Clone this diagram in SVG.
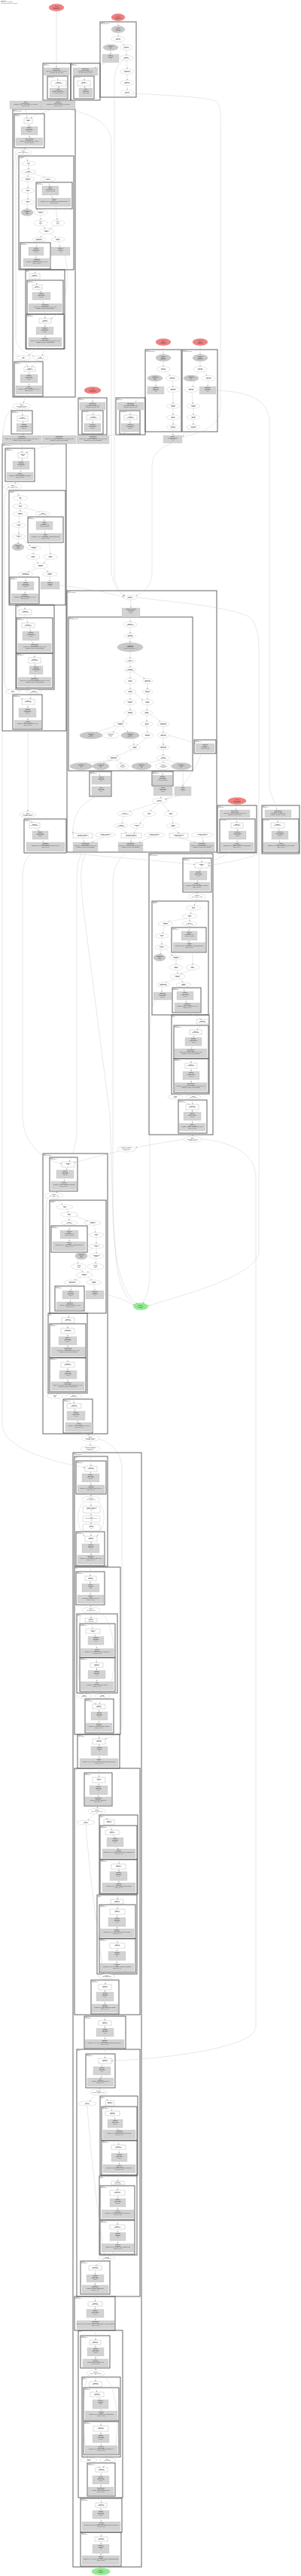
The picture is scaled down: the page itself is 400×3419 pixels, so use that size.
<svg xmlns="http://www.w3.org/2000/svg" width="400" height="3419" viewBox="0 0 400 3419">
<style>
.c{fill:none;stroke:#555;stroke-width:0.9}
.e{fill:#fff;stroke:#aaa;stroke-width:0.3}
.g{fill:#c9c9c9;stroke:#aaa;stroke-width:0.3}
.r{fill:#d3d3d3;stroke:#bbb;stroke-width:0.3}
.w{fill:#fff;stroke:#888;stroke-width:0.3}
.red{fill:#f08080;stroke:#d96a6a;stroke-width:0.3}
.grn{fill:#90ee90;stroke:#6cc86c;stroke-width:0.3}
.t{font-family:"Liberation Sans",Arial,sans-serif;font-size:1.4px;fill:#333;text-anchor:middle}
.b{font-weight:bold}
.l{font-family:"Liberation Sans",Arial,sans-serif;font-size:1.2px;fill:#444}
#edges path{fill:none;stroke:#bbb;stroke-width:0.35;marker-end:url(#a)}
</style>
<defs>
<marker id="a" viewBox="0 0 6 6" refX="6" refY="3" markerWidth="1.5" markerHeight="1.5" markerUnits="userSpaceOnUse" orient="auto"><path d="M0 0L6 3L0 6z" fill="#777"/></marker>
</defs>
<rect width="400" height="3419" fill="#fff"/>
<g id="title"><text class="l" x="1" y="2"><tspan class="b">hlo_module</tspan><tspan x="1" dy="1.4">cluster_0 -- entry computation</tspan><tspan x="1" dy="1.4">412 instructions, 38 fusions, 6 parameters</tspan></text></g>

<g id="clusters">
<g id="cl_A"><rect class="c" x="133" y="29" width="48" height="100"/><text class="l" x="134" y="31"><tspan>fusion.11</tspan><tspan x="134" dy="1.3">fused_computation.11</tspan></text></g>
<g id="cl_B"><rect class="c" x="57" y="84" width="37" height="49"/><text class="l" x="58" y="86"><tspan>fusion.2</tspan><tspan x="58" dy="1.3">fused_comp.2</tspan></text></g>
<g id="cl_B2"><rect class="c" x="63" y="101" width="27" height="30"/><text class="l" x="64" y="103">param_fusion.2</text></g>
<g id="cl_C"><rect class="c" x="94" y="84" width="39" height="49"/><text class="l" x="95" y="86"><tspan>fusion.3</tspan><tspan x="95" dy="1.3">fused_comp.3</tspan></text></g>
<g id="cl_C2"><rect class="c" x="98" y="101" width="27" height="30"/><text class="l" x="99" y="103">param_fusion.3</text></g>
<g id="cl_D"><rect class="c" x="17" y="145" width="83" height="382"/><text class="l" x="18" y="147"><tspan>while.1</tspan><tspan x="18" dy="1.3">body_computation.1</tspan></text></g>
<g id="cl_D1"><rect class="c" x="19" y="151" width="40" height="45"/><text class="l" x="20" y="153"><tspan>fusion.14</tspan><tspan x="20" dy="1.3">fused_comp.14</tspan></text></g>
<g id="cl_D2"><rect class="c" x="25" y="207" width="73" height="151"/><text class="l" x="26" y="209"><tspan>conditional.1</tspan><tspan x="26" dy="1.3">branch_0</tspan></text></g>
<g id="cl_D2a"><rect class="c" x="48" y="242" width="48" height="35"/><text class="l" x="49" y="244"><tspan>fusion.15</tspan><tspan x="49" dy="1.3">fused_comp.15</tspan></text></g>
<g id="cl_D2b"><rect class="c" x="27" y="322" width="40" height="35"/><text class="l" x="28" y="324"><tspan>fusion.16</tspan><tspan x="28" dy="1.3">fused_comp.16</tspan></text></g>
<g id="cl_D3"><rect class="c" x="34" y="358" width="52" height="105"/><text class="l" x="35" y="360"><tspan>call.2</tspan><tspan x="35" dy="1.3">layer_1</tspan></text></g>
<g id="cl_D3a"><rect class="c" x="36" y="372" width="48" height="45"/><text class="l" x="37" y="374"><tspan>fusion.17</tspan><tspan x="37" dy="1.3">fused_comp.17</tspan></text></g>
<g id="cl_D3b"><rect class="c" x="35" y="417" width="50" height="46"/><text class="l" x="36" y="419"><tspan>fusion.18</tspan><tspan x="36" dy="1.3">fused_comp.18</tspan></text></g>
<g id="cl_D4"><rect class="c" x="19" y="480" width="38" height="46"/><text class="l" x="20" y="482"><tspan>fusion.19</tspan><tspan x="20" dy="1.3">fused_comp.19</tspan></text></g>
<g id="cl_E"><rect class="c" x="15" y="545" width="28" height="31"/><text class="l" x="16" y="547"><tspan>fusion.20</tspan><tspan x="16" dy="1.3">fused_comp.20</tspan></text></g>
<g id="cl_F"><rect class="c" x="104" y="528" width="38" height="49"/><text class="l" x="105" y="530"><tspan>fusion.4</tspan><tspan x="105" dy="1.3">fused_comp.4</tspan></text></g>
<g id="cl_F2"><rect class="c" x="109" y="545" width="28" height="31"/><text class="l" x="110" y="547">param_fusion.4</text></g>
<g id="cl_G"><rect class="c" x="154" y="528" width="39" height="49"/><text class="l" x="155" y="530"><tspan>fusion.5</tspan><tspan x="155" dy="1.3">fused_comp.5</tspan></text></g>
<g id="cl_G2"><rect class="c" x="159" y="545" width="27" height="31"/><text class="l" x="160" y="547">param_fusion.5</text></g>
<g id="cl_H"><rect class="c" x="193" y="464" width="48" height="109"/><text class="l" x="194" y="466"><tspan>fusion.21</tspan><tspan x="194" dy="1.3">fused_computation.21</tspan></text></g>
<g id="cl_I"><rect class="c" x="242" y="464" width="47" height="109"/><text class="l" x="243" y="466"><tspan>fusion.22</tspan><tspan x="243" dy="1.3">fused_computation.22</tspan></text></g>
<g id="cl_J"><rect class="c" x="3" y="589" width="85" height="381"/><text class="l" x="4" y="591"><tspan>while.2</tspan><tspan x="4" dy="1.3">body_computation.2</tspan></text></g>
<g id="cl_J1"><rect class="c" x="7" y="595" width="39" height="44"/><text class="l" x="8" y="597"><tspan>fusion.23</tspan><tspan x="8" dy="1.3">fused_comp.23</tspan></text></g>
<g id="cl_J2"><rect class="c" x="12" y="651" width="75" height="152"/><text class="l" x="13" y="653"><tspan>conditional.2</tspan><tspan x="13" dy="1.3">branch_0</tspan></text></g>
<g id="cl_J2a"><rect class="c" x="37" y="686" width="47" height="34"/><text class="l" x="38" y="688"><tspan>fusion.24</tspan><tspan x="38" dy="1.3">fused_comp.24</tspan></text></g>
<g id="cl_J2b"><rect class="c" x="13" y="766" width="39" height="35"/><text class="l" x="14" y="768"><tspan>fusion.25</tspan><tspan x="14" dy="1.3">fused_comp.25</tspan></text></g>
<g id="cl_J3"><rect class="c" x="21" y="803" width="51" height="112"/><text class="l" x="22" y="805"><tspan>call.3</tspan><tspan x="22" dy="1.3">layer_2</tspan></text></g>
<g id="cl_J3a"><rect class="c" x="22" y="820" width="48" height="47"/><text class="l" x="23" y="822"><tspan>fusion.26</tspan><tspan x="23" dy="1.3">fused_comp.26</tspan></text></g>
<g id="cl_J3b"><rect class="c" x="22" y="867" width="48" height="46"/><text class="l" x="23" y="869"><tspan>fusion.27</tspan><tspan x="23" dy="1.3">fused_comp.27</tspan></text></g>
<g id="cl_J4"><rect class="c" x="17" y="922" width="39" height="46"/><text class="l" x="18" y="924"><tspan>fusion.28</tspan><tspan x="18" dy="1.3">fused_comp.28</tspan></text></g>
<g id="cl_K"><rect class="c" x="89" y="784" width="199" height="347"/><text class="l" x="90" y="786"><tspan>while.3</tspan><tspan x="90" dy="1.3">body_computation.3</tspan></text></g>
<g id="cl_K1"><rect class="c" x="91" y="819" width="165" height="204"/><text class="l" x="92" y="821"><tspan>fusion.30</tspan><tspan x="92" dy="1.3">fused_computation.30</tspan></text></g>
<g id="cl_K2"><rect class="c" x="258" y="982" width="29" height="18"/><text class="l" x="259" y="984"><tspan>fusion.31</tspan><tspan x="259" dy="1.3">fused_comp.31</tspan></text></g>
<g id="cl_K3"><rect class="c" x="119" y="1024" width="29" height="33"/><text class="l" x="120" y="1026"><tspan>fusion.32</tspan><tspan x="120" dy="1.3">fused_comp.32</tspan></text></g>
<g id="cl_K4"><rect class="c" x="202" y="1024" width="28" height="19"/><text class="l" x="203" y="1026"><tspan>fusion.33</tspan><tspan x="203" dy="1.3">fused_comp.33</tspan></text></g>
<g id="cl_L"><rect class="c" x="32" y="1087" width="56" height="45"/><text class="l" x="33" y="1089"><tspan>fusion.34</tspan><tspan x="33" dy="1.3">fused_comp.34</tspan></text></g>
<g id="cl_M"><rect class="c" x="289" y="1069" width="52" height="63"/><text class="l" x="290" y="1071"><tspan>fusion.6</tspan><tspan x="290" dy="1.3">fused_comp.6</tspan></text></g>
<g id="cl_M2"><rect class="c" x="292" y="1087" width="47" height="44"/><text class="l" x="293" y="1089">param_fusion.6</text></g>
<g id="cl_N"><rect class="c" x="348" y="1069" width="50" height="64"/><text class="l" x="349" y="1071"><tspan>fusion.7</tspan><tspan x="349" dy="1.3">fused_comp.7</tspan></text></g>
<g id="cl_N2"><rect class="c" x="349" y="1087" width="48" height="44"/><text class="l" x="350" y="1089">param_fusion.7</text></g>
<g id="cl_O"><rect class="c" x="198" y="1133" width="85" height="373"/><text class="l" x="199" y="1135"><tspan>while.4</tspan><tspan x="199" dy="1.3">body_computation.4</tspan></text></g>
<g id="cl_O1"><rect class="c" x="243" y="1139" width="38" height="45"/><text class="l" x="244" y="1141"><tspan>fusion.35</tspan><tspan x="244" dy="1.3">fused_comp.35</tspan></text></g>
<g id="cl_O2"><rect class="c" x="202" y="1196" width="75" height="151"/><text class="l" x="203" y="1198"><tspan>conditional.3</tspan><tspan x="203" dy="1.3">branch_0</tspan></text></g>
<g id="cl_O2a"><rect class="c" x="228" y="1231" width="46" height="33"/><text class="l" x="229" y="1233"><tspan>fusion.36</tspan><tspan x="229" dy="1.3">fused_comp.36</tspan></text></g>
<g id="cl_O2b"><rect class="c" x="229" y="1311" width="38" height="33"/><text class="l" x="230" y="1313"><tspan>fusion.37</tspan><tspan x="230" dy="1.3">fused_comp.37</tspan></text></g>
<g id="cl_O3"><rect class="c" x="228" y="1347" width="50" height="105"/><text class="l" x="229" y="1349"><tspan>call.4</tspan><tspan x="229" dy="1.3">layer_3</tspan></text></g>
<g id="cl_O3a"><rect class="c" x="231" y="1361" width="46" height="44"/><text class="l" x="232" y="1363"><tspan>fusion.38</tspan><tspan x="232" dy="1.3">fused_comp.38</tspan></text></g>
<g id="cl_O3b"><rect class="c" x="231" y="1405" width="46" height="45"/><text class="l" x="232" y="1407"><tspan>fusion.39</tspan><tspan x="232" dy="1.3">fused_comp.39</tspan></text></g>
<g id="cl_O4"><rect class="c" x="237" y="1460" width="38" height="44"/><text class="l" x="238" y="1462"><tspan>fusion.40</tspan><tspan x="238" dy="1.3">fused_comp.40</tspan></text></g>
<g id="cl_P"><rect class="c" x="57" y="1531" width="86" height="372"/><text class="l" x="58" y="1533"><tspan>while.5</tspan><tspan x="58" dy="1.3">body_computation.5</tspan></text></g>
<g id="cl_P1"><rect class="c" x="66" y="1536" width="37" height="45"/><text class="l" x="67" y="1538"><tspan>fusion.41</tspan><tspan x="67" dy="1.3">fused_comp.41</tspan></text></g>
<g id="cl_P2"><rect class="c" x="66" y="1593" width="75" height="150"/><text class="l" x="67" y="1595"><tspan>conditional.4</tspan><tspan x="67" dy="1.3">branch_0</tspan></text></g>
<g id="cl_P2a"><rect class="c" x="68" y="1627" width="48" height="35"/><text class="l" x="69" y="1629"><tspan>fusion.42</tspan><tspan x="69" dy="1.3">fused_comp.42</tspan></text></g>
<g id="cl_P2b"><rect class="c" x="73" y="1707" width="39" height="33"/><text class="l" x="74" y="1709"><tspan>fusion.43</tspan><tspan x="74" dy="1.3">fused_comp.43</tspan></text></g>
<g id="cl_P3"><rect class="c" x="64" y="1743" width="52" height="106"/><text class="l" x="65" y="1745"><tspan>call.5</tspan><tspan x="65" dy="1.3">layer_4</tspan></text></g>
<g id="cl_P3a"><rect class="c" x="66" y="1757" width="48" height="45"/><text class="l" x="67" y="1759"><tspan>fusion.44</tspan><tspan x="67" dy="1.3">fused_comp.44</tspan></text></g>
<g id="cl_P3b"><rect class="c" x="66" y="1802" width="48" height="45"/><text class="l" x="67" y="1804"><tspan>fusion.45</tspan><tspan x="67" dy="1.3">fused_comp.45</tspan></text></g>
<g id="cl_P4"><rect class="c" x="84" y="1857" width="39" height="45"/><text class="l" x="85" y="1859"><tspan>fusion.46</tspan><tspan x="85" dy="1.3">fused_comp.46</tspan></text></g>
<g id="cl_Q"><rect class="c" x="97" y="1928" width="91" height="1479"/><text class="l" x="98" y="1930"><tspan>while.6</tspan><tspan x="98" dy="1.3">body_computation.6</tspan></text></g>
<g id="cl_Q1"><rect class="c" x="99" y="1933" width="44" height="146"/><text class="l" x="100" y="1935">call.6</text></g>
<g id="cl_Q1a"><rect class="c" x="101" y="1939" width="40" height="44"/><text class="l" x="102" y="1941"><tspan>fusion.47</tspan><tspan x="102" dy="1.3">fused_comp.47</tspan></text></g>
<g id="cl_Q1b"><rect class="c" x="101" y="2033" width="38" height="45"/><text class="l" x="102" y="2035"><tspan>fusion.48</tspan><tspan x="102" dy="1.3">fused_comp.48</tspan></text></g>
<g id="cl_Q2"><rect class="c" x="99" y="2080" width="61" height="222"/><text class="l" x="100" y="2082">call.7</text></g>
<g id="cl_Q2a"><rect class="c" x="101" y="2086" width="38" height="44"/><text class="l" x="102" y="2088"><tspan>fusion.49</tspan><tspan x="102" dy="1.3">fused_comp.49</tspan></text></g>
<g id="cl_Q2b"><rect class="c" x="102" y="2142" width="54" height="105"/><text class="l" x="103" y="2144"><tspan>call.8</tspan><tspan x="103" dy="1.3">block_1</tspan></text></g>
<g id="cl_Q2b1"><rect class="c" x="106" y="2155" width="47" height="45"/><text class="l" x="107" y="2157"><tspan>fusion.50</tspan><tspan x="107" dy="1.3">fused_comp.50</tspan></text></g>
<g id="cl_Q2b2"><rect class="c" x="106" y="2200" width="47" height="45"/><text class="l" x="107" y="2202"><tspan>fusion.51</tspan><tspan x="107" dy="1.3">fused_comp.51</tspan></text></g>
<g id="cl_Q2c"><rect class="c" x="113" y="2255" width="38" height="45"/><text class="l" x="114" y="2257"><tspan>fusion.52</tspan><tspan x="114" dy="1.3">fused_comp.52</tspan></text></g>
<g id="cl_Q3"><rect class="c" x="103" y="2302" width="56" height="45"/><text class="l" x="104" y="2304"><tspan>fusion.53</tspan><tspan x="104" dy="1.3">fused_comp.53</tspan></text></g>
<g id="cl_Q4"><rect class="c" x="99" y="2347" width="87" height="327"/><text class="l" x="100" y="2349">call.9</text></g>
<g id="cl_Q4a"><rect class="c" x="112" y="2353" width="37" height="44"/><text class="l" x="113" y="2355"><tspan>fusion.54</tspan><tspan x="113" dy="1.3">fused_comp.54</tspan></text></g>
<g id="cl_Q4b"><rect class="c" x="132" y="2409" width="51" height="105"/><text class="l" x="133" y="2411"><tspan>call.10</tspan><tspan x="133" dy="1.3">block_2</tspan></text></g>
<g id="cl_Q4b1"><rect class="c" x="133" y="2423" width="49" height="45"/><text class="l" x="134" y="2425"><tspan>fusion.55</tspan><tspan x="134" dy="1.3">fused_comp.55</tspan></text></g>
<g id="cl_Q4b2"><rect class="c" x="133" y="2468" width="49" height="45"/><text class="l" x="134" y="2470"><tspan>fusion.56</tspan><tspan x="134" dy="1.3">fused_comp.56</tspan></text></g>
<g id="cl_Q4c"><rect class="c" x="129" y="2515" width="53" height="105"/><text class="l" x="130" y="2517"><tspan>call.11</tspan><tspan x="130" dy="1.3">block_3</tspan></text></g>
<g id="cl_Q4c1"><rect class="c" x="132" y="2528" width="48" height="45"/><text class="l" x="133" y="2530"><tspan>fusion.57</tspan><tspan x="133" dy="1.3">fused_comp.57</tspan></text></g>
<g id="cl_Q4c2"><rect class="c" x="132" y="2573" width="48" height="45"/><text class="l" x="133" y="2575"><tspan>fusion.58</tspan><tspan x="133" dy="1.3">fused_comp.58</tspan></text></g>
<g id="cl_Q4d"><rect class="c" x="121" y="2628" width="37" height="45"/><text class="l" x="122" y="2630"><tspan>fusion.59</tspan><tspan x="122" dy="1.3">fused_comp.59</tspan></text></g>
<g id="cl_Q5"><rect class="c" x="112" y="2676" width="55" height="43"/><text class="l" x="113" y="2678"><tspan>fusion.60</tspan><tspan x="113" dy="1.3">fused_comp.60</tspan></text></g>
<g id="cl_Q6"><rect class="c" x="102" y="2720" width="84" height="328"/><text class="l" x="103" y="2722">call.12</text></g>
<g id="cl_Q6a"><rect class="c" x="114" y="2726" width="39" height="45"/><text class="l" x="115" y="2728"><tspan>fusion.61</tspan><tspan x="115" dy="1.3">fused_comp.61</tspan></text></g>
<g id="cl_Q6b"><rect class="c" x="133" y="2782" width="50" height="105"/><text class="l" x="134" y="2784"><tspan>call.13</tspan><tspan x="134" dy="1.3">block_4</tspan></text></g>
<g id="cl_Q6b1"><rect class="c" x="135" y="2796" width="47" height="45"/><text class="l" x="136" y="2798"><tspan>fusion.62</tspan><tspan x="136" dy="1.3">fused_comp.62</tspan></text></g>
<g id="cl_Q6b2"><rect class="c" x="135" y="2841" width="47" height="46"/><text class="l" x="136" y="2843"><tspan>fusion.63</tspan><tspan x="136" dy="1.3">fused_comp.63</tspan></text></g>
<g id="cl_Q6c"><rect class="c" x="132" y="2888" width="50" height="105"/><text class="l" x="133" y="2890"><tspan>call.14</tspan><tspan x="133" dy="1.3">block_5</tspan></text></g>
<g id="cl_Q6c1"><rect class="c" x="133" y="2901" width="46" height="45"/><text class="l" x="134" y="2903"><tspan>fusion.64</tspan><tspan x="134" dy="1.3">fused_comp.64</tspan></text></g>
<g id="cl_Q6c2"><rect class="c" x="133" y="2947" width="46" height="45"/><text class="l" x="134" y="2949"><tspan>fusion.65</tspan><tspan x="134" dy="1.3">fused_comp.65</tspan></text></g>
<g id="cl_Q6d"><rect class="c" x="107" y="3001" width="39" height="44"/><text class="l" x="108" y="3003"><tspan>fusion.66</tspan><tspan x="108" dy="1.3">fused_comp.66</tspan></text></g>
<g id="cl_Q7"><rect class="c" x="99" y="3048" width="54" height="45"/><text class="l" x="100" y="3050"><tspan>fusion.67</tspan><tspan x="100" dy="1.3">fused_comp.67</tspan></text></g>
<g id="cl_Q8"><rect class="c" x="104" y="3093" width="59" height="222"/><text class="l" x="105" y="3095">call.15</text></g>
<g id="cl_Q8a"><rect class="c" x="107" y="3100" width="39" height="43"/><text class="l" x="108" y="3102"><tspan>fusion.68</tspan><tspan x="108" dy="1.3">fused_comp.68</tspan></text></g>
<g id="cl_Q8b"><rect class="c" x="109" y="3155" width="51" height="106"/><text class="l" x="110" y="3157"><tspan>call.16</tspan><tspan x="110" dy="1.3">block_6</tspan></text></g>
<g id="cl_Q8b1"><rect class="c" x="111" y="3169" width="47" height="44"/><text class="l" x="112" y="3171"><tspan>fusion.69</tspan><tspan x="112" dy="1.3">fused_comp.69</tspan></text></g>
<g id="cl_Q8b2"><rect class="c" x="111" y="3214" width="47" height="44"/><text class="l" x="112" y="3216"><tspan>fusion.70</tspan><tspan x="112" dy="1.3">fused_comp.70</tspan></text></g>
<g id="cl_Q8c"><rect class="c" x="116" y="3269" width="37" height="44"/><text class="l" x="117" y="3271"><tspan>fusion.71</tspan><tspan x="117" dy="1.3">fused_comp.71</tspan></text></g>
<g id="cl_Q9"><rect class="c" x="107" y="3316" width="55" height="45"/><text class="l" x="108" y="3318"><tspan>fusion.72</tspan><tspan x="108" dy="1.3">fused_comp.72</tspan></text></g>
<g id="cl_Q10"><rect class="c" x="107" y="3361" width="54" height="45"/><text class="l" x="108" y="3363"><tspan>fusion.73</tspan><tspan x="108" dy="1.3">fused_comp.73</tspan></text></g>
</g>

<g id="edges">
<path d="M75 14.7L75 89.5"/><path d="M157 27.7L157 34.3"/><path d="M157 43.5L157 48.3"/><path d="M159.5 55.3L165.5 59.8"/><path d="M147 67L147 71.8"/><path d="M168 66.5L168 73.3"/><path d="M168.5 80.5L169 91.3"/><path d="M169 98.5L169 106.3"/><path d="M169 113.5L169 119.3"/>
<path d="M140 83C136 86 130 87 126 89.8"/><path d="M75 100L77 106.8"/><path d="M78 114L78 116.8"/><path d="M78 129L78 133.8"/><path d="M113 100L112 106.8"/><path d="M112 114L113 116.8"/><path d="M113 129C110 132 100 133 96 134"/>
<path d="M178 124C210 126 270 128 287 134C292 137 293 145 293 160L293 540C293 560 280 572 243 580"/>
<path d="M164 80C155 86 152 95 152 110L152 760C152 778 160 787 166 790.5"/>
<path d="M92 145C120 152 148 162 148 190L148 755C148 775 158 786 165 791"/>
<path d="M34 145L36 156.8"/><path d="M70 145C55 150 45 153 41 156.8"/><path d="M37.5 164L39 167.8"/><path d="M39 179L39 182.8"/><path d="M35 193L32 197.8"/><path d="M33 206L37 213.8"/><path d="M38 220L38 224.8"/><path d="M37.5 231L37 234.8"/><path d="M44 230C52 233 58 235 60 235.2"/><path d="M37 241L37 249.8"/><path d="M37 256L37 264.8"/><path d="M36.5 271L36 277.3"/><path d="M42 270.5L50 278.8"/><path d="M54 285.5L54 291.8"/><path d="M57 300L60 303.3"/><path d="M73 299.5L66 303.7"/><path d="M58 310.5L54 314.8"/><path d="M67 310.3L74 315.3"/><path d="M64 241L66 246.8"/><path d="M67 259L70 262.8"/><path d="M74 274L76 291.8"/><path d="M50 321L48 327.8"/><path d="M48 339L48 342.8"/><path d="M78 321L80 327.8"/><path d="M49 354L46 362.8"/><path d="M46 370L49 377.8"/><path d="M50 384L55 387.8"/><path d="M55 398L58 402.8"/><path d="M60 414L60 422.8"/><path d="M60 429L60 433.8"/><path d="M60 444L60 447.8"/><path d="M52 460L38 471.8"/><path d="M62 460L56 471.8"/><path d="M32 478L37 486.8"/><path d="M52 478L42 486.8"/><path d="M39.5 493L38.5 496.8"/><path d="M38.5 508L38.5 511.8"/><path d="M36 523L31 534.8"/>
<path d="M86 339C92 360 92 410 68 422.8"/>
<path d="M22 204C18 212 18 225 18 240L18 462C18 468 22 472 25 473"/><path d="M24 205C21 215 21 230 21 250L21 450C21 460 35 470 45 472.5"/>
<path d="M29 543L30 551.8"/><path d="M30 559L31 561.8"/><path d="M32 573L30 577.8"/>
<path d="M18 541C8 548 3 560 3 600L3 1890C3 1920 60 1938 112.5 1948"/>
<path d="M123 522.5L123 533.8"/><path d="M123 544L124 550.8"/><path d="M124 557L123 561.8"/><path d="M123 573L123 577.8"/><path d="M173 544L173 550.8"/><path d="M173 557L173 561.8"/><path d="M170 573C160 576 145 578 140 578.5"/>
<path d="M217 458.5L217 470.3"/><path d="M217 479.5L217 486.3"/><path d="M220 493L226 498.6"/><path d="M229 505.5L230 513.3"/><path d="M207 506L207 512.8"/><path d="M230 520.5L230 535.8"/><path d="M230 542L230 550.8"/><path d="M230 557L230 563.8"/><path d="M230 570L230 577.8"/><path d="M196 520C188 525 183 530 180 533.8"/>
<path d="M266 458.5L266 470.3"/><path d="M266 479.5L266 486.3"/><path d="M263 493.5L256 513.3"/><path d="M270 493L275 498.6"/><path d="M277 505.5L276 512.8"/><path d="M255 520.5L256 535.8"/><path d="M257 542L257 550.8"/><path d="M257 557L257 563.8"/><path d="M252 570C248 574 245 577 243 578.5"/>
<path d="M287 518C330 520 358 530 358 560L358 1040C358 1055 365 1062 368 1074.8"/>
<path d="M229 588C215 593 202 600 202 620L202 760C202 778 190 786 181 790.5"/>
<path d="M30 589L29 600.8"/><path d="M78 589C55 594 40 597 35 600.8"/><path d="M30 608L29 611.8"/><path d="M28 623L27 626.8"/><path d="M25 637L20 641.8"/><path d="M20 650L25 657.8"/><path d="M27 664L27 668.8"/><path d="M27 675L27 678.8"/><path d="M33 674.5C45 677 52 679 54 679.2"/><path d="M26 685L25 693.8"/><path d="M25 700L25 708.8"/><path d="M25 715L24 721.3"/><path d="M30 714.5L40 724.2"/><path d="M45 730L44 735.3"/><path d="M47 742.5L51 747.3"/><path d="M63 742.5L58 747.3"/><path d="M58 685L59 691.8"/><path d="M59 703L60 707.8"/><path d="M65 718L67 735.3"/><path d="M49 754.5L37 758.8"/><path d="M58 754.5L64 758.8"/><path d="M34 765L34 771.8"/><path d="M34 783L33 787.8"/><path d="M66 765L66 771.8"/><path d="M79 777C110 780 150 788 164.5 792.5"/>
<path d="M33 799L33 808.8"/><path d="M33 816L37 826.8"/><path d="M38 833L41 837.8"/><path d="M41 850L44 853.8"/><path d="M46 865L46 872.8"/><path d="M46 880L47 883.8"/><path d="M47 895L46 898.8"/><path d="M40 911L21 915.2"/><path d="M52 911L46 914.8"/><path d="M20 921L30 927.8"/><path d="M43 921L40 927.8"/><path d="M37 935L37 939.8"/><path d="M37 952L37 955.8"/><path d="M37 967L37 1076.8"/>
<path d="M10 648C6 655 6 665 6 680L6 905C6 912 10 915 12 916"/>
<path d="M173 796L174 806.8"/><path d="M174 819L173 825.3"/><path d="M173 832.5L173 840.8"/><path d="M173 847L173 852.8"/><path d="M173 865L173 873.8"/><path d="M173 880L173 885.8"/><path d="M173 892L173 900.3"/><path d="M178 892L192 900.6"/><path d="M173 907.5L173 914.8"/><path d="M196 907.5L196 914.8"/><path d="M179 920L190 929"/><path d="M173 921L173 928.3"/><path d="M196 921L196 928.3"/><path d="M173 935.5L173 942.8"/><path d="M196 935.5L195 942.8"/><path d="M171 949L163 957.8"/><path d="M195 949L195 957.8"/><path d="M200 948.5L213 957.6"/><path d="M154 963.5L128 972"/><path d="M157 964L150 972"/><path d="M163 964L170 971.6"/><path d="M195 964L196 972.3"/><path d="M217 964.5L217 972.3"/><path d="M177 980.5L178 988.8"/><path d="M195 979.5L182 989"/><path d="M217 979.5L217 988.8"/><path d="M176 995L155 1003.2"/><path d="M217 995L217 1002.8"/><path d="M148 1009L113 1012.8"/><path d="M149 1009L137 1012.6"/><path d="M154 1009L161 1013"/><path d="M213 1009L194 1012.8"/><path d="M217 1009L217 1012.3"/><path d="M221 1009L237 1012.8"/><path d="M225 976C240 980 252 984 259.8 987"/>
<path d="M130 1021.5L133 1029.8"/><path d="M217 1021.5L216 1028.8"/><path d="M243 1021.5L243 1043.8"/><path d="M268 998C262 1020 240 1050 221 1061"/><path d="M216 1056L213 1059.3"/><path d="M240 1056L219 1060.5"/><path d="M206 1066L172 1077"/><path d="M210 1066.5L200 1076.3"/><path d="M216 1066L224 1076.6"/><path d="M164 1083.5L162 1092.8"/><path d="M194 1083.5L186 1092.8"/><path d="M228 1083.5L230 1092.8"/><path d="M161 1099L168 1105.8"/><path d="M183 1099L178 1105.8"/><path d="M230 1099L238 1105.8"/><path d="M110 1112L112 1117.8"/><path d="M138 1111L122 1117.8"/><path d="M174 1112L174 1117.8"/><path d="M200 1111L185 1117.8"/><path d="M238 1112L260 1117.8"/><path d="M269 1111L270 1117.8"/><path d="M128 1057C110 1065 96 1080 97 1105.8"/>
<path d="M37 1085L43 1091.8"/><path d="M47 1099L52 1102.8"/><path d="M55 1114L58 1117.8"/>
<path d="M315 1067.5L313 1074.8"/><path d="M313 1085L315 1091.8"/><path d="M315 1099L315.5 1102.8"/><path d="M315.5 1114L315 1117.8"/><path d="M369 1085L369 1091.8"/><path d="M370 1099L371 1102.8"/><path d="M371 1114L372 1117.8"/>
<path d="M182 793C240 800 300 805 330 818C340 825 344 840 344 860L344 1660C344 1690 260 1715 196.5 1733"/>
<path d="M80 1131C150 1138 230 1144 258.8 1147.5"/><path d="M310 1129C295 1137 285 1142 277.2 1146"/><path d="M355 1129.5C330 1140 300 1145 277.2 1149"/><path d="M268 1130L268 1144.8"/>
<path d="M268 1152L265 1155.8"/><path d="M263 1168L262 1170.8"/><path d="M261 1182L262 1185.8"/><path d="M262 1194L258 1201.8"/><path d="M256 1208L253 1212.8"/><path d="M248 1219L224 1222.8"/><path d="M252 1219L252 1222.8"/><path d="M219 1229L216 1238.8"/><path d="M215 1245L215 1253.8"/><path d="M214 1260L213 1266.3"/><path d="M220 1259.5L229 1268"/><path d="M234 1274L234 1280.3"/><path d="M235 1287.5L236 1292.3"/><path d="M254 1287.5L240 1292.5"/><path d="M232 1299.5L220 1304"/><path d="M240 1299.5L243 1303.8"/><path d="M252 1229L251 1235.8"/><path d="M251 1248L251 1250.8"/><path d="M256 1263L256 1280.3"/><path d="M215 1310L215 1316.8"/><path d="M244 1310L245 1315.8"/><path d="M246 1327L248 1330.8"/><path d="M249 1343L268 1352.8"/><path d="M268 1359L262 1366.8"/><path d="M259 1373L257 1376.8"/><path d="M257 1388L254 1391.8"/><path d="M254 1403L254 1410.8"/><path d="M254 1418L254 1421.8"/><path d="M254 1433L254 1436.8"/><path d="M248 1448L236 1452.8"/><path d="M256 1448L257 1452.8"/><path d="M236 1459L252 1465.8"/><path d="M255 1459L256 1465.8"/><path d="M255.5 1473L255.5 1475.8"/><path d="M255.5 1487L255.5 1490.8"/><path d="M255.5 1501L256 1507.8"/>
<path d="M206 1327C200 1340 199 1360 199 1400L199 1690C199 1712 193 1724 190 1729.8"/>
<path d="M245 1512C220 1516 195 1520 180.3 1523"/><path d="M158 1528C130 1535 110 1540 99.3 1543"/>
<path d="M268 1512C300 1514 338 1528 340 1560L340 2690C340 2720 200 2734 148.3 2735"/>
<path d="M45 1130C32 1140 30 1150 30 1170L30 1480C30 1520 60 1540 81.8 1545"/>
<path d="M110 1130C104 1140 102 1150 102 1170L102 1500C102 1520 96 1532 92 1541.8"/>
<path d="M115 1130C107 1145 106 1160 110 1200L146 1480C148 1520 148 1600 155 1680C160 1715 172 1727 180 1731.5"/>
<path d="M170 1130C158 1140 150 1150 150 1170L150 1600C150 1680 165 1720 182 1730"/>
<path d="M138 1718C160 1722 170 1728 178.3 1732.5"/>
<path d="M90 1549L88 1552.8"/><path d="M86 1564L85 1567.8"/><path d="M80 1579L75 1582.8"/><path d="M76 1591L83 1598.8"/><path d="M88 1605L91 1608.8"/><path d="M92 1615L92 1619.8"/><path d="M100 1614L116 1620.3"/><path d="M92 1626L92 1632.8"/><path d="M92 1644L92 1647.8"/><path d="M125 1626L127 1635.8"/><path d="M128 1642L128 1650.8"/><path d="M124 1657L111 1662.8"/><path d="M128 1657L128 1663.3"/><path d="M128 1670.5L127 1676.8"/><path d="M100 1660L104 1676.8"/><path d="M107 1685L110 1688.3"/><path d="M123 1685L116 1688.5"/><path d="M107 1695.5L99 1698.8"/><path d="M117 1695.5L122 1698.8"/><path d="M95 1705L94 1712.8"/><path d="M94 1724L93 1727.8"/><path d="M125 1705L126 1712.8"/><path d="M93 1739L91 1748.8"/><path d="M90 1756L90 1762.8"/><path d="M90 1770L90 1773.8"/><path d="M90 1785L90 1787.8"/><path d="M90 1800L90 1807.8"/><path d="M90 1815L90 1818.8"/><path d="M90 1830L90 1833.8"/><path d="M85 1845L75 1849.8"/><path d="M93 1845L97 1849.8"/><path d="M76 1856L94 1862.8"/><path d="M98 1856L98 1862.8"/><path d="M98.5 1869L100 1872.8"/><path d="M101 1885L104 1887.8"/><path d="M104 1900L118 1904.8"/><path d="M120 1913L120 1918.8"/><path d="M120 1927L121 1945.8"/>
<path d="M63 1590C61 1600 61 1610 61 1630L61 1840C61 1848 64 1852 65 1852"/>
<path d="M131 1910C150 1915 162 1930 162 1950L162 2290C162 2300 150 2305 140.3 2308"/>
<path d="M121 1953L120 1955.8"/><path d="M120.5 1967L121 1970.8"/><path d="M121 1982L121 1985.8"/><path d="M121 1994L121 1998.8"/><path d="M121 2008L121 2011.8"/><path d="M121 2020L121 2022.8"/><path d="M121 2032L121 2038.8"/><path d="M112 1993C101 2003 101 2025 112 2038.6"/><path d="M130 1993C141 2003 141 2025 129 2038.6"/><path d="M121 2046L121 2048.8"/><path d="M121 2061L121 2063.8"/><path d="M120 2076L120 2091.8"/><path d="M120 2098L120 2101.8"/><path d="M120 2113L120 2116.8"/><path d="M120 2128L121 2132.8"/><path d="M121 2141L121 2147.8"/><path d="M121 2153L123 2161.8"/><path d="M124 2168L127 2171.8"/><path d="M127.5 2183L129 2187.8"/><path d="M129 2198L128 2206.8"/><path d="M128.5 2213L128.5 2216.8"/><path d="M128.5 2228L129 2231.8"/><path d="M124 2243L114 2247.8"/><path d="M132 2243L135 2247.8"/><path d="M113 2254L128 2261.8"/><path d="M135 2254L132 2261.8"/><path d="M131.5 2268L132 2271.8"/><path d="M132 2283L131.5 2286.8"/><path d="M131.5 2298L131.5 2307.8"/><path d="M109 2140C102 2150 102 2238 109 2248.2"/><path d="M133 2140C157 2152 157 2238 139 2248.3"/>
<path d="M131.5 2315L132 2317.8"/><path d="M132 2330L132 2333.8"/><path d="M131.5 2345L131.5 2358.8"/><path d="M131.5 2366L131 2369.8"/><path d="M131 2382L130.5 2384.8"/><path d="M130 2396L129 2399.8"/><path d="M125 2407.5L117 2416"/><path d="M134 2407.5L143 2414.8"/><path d="M145 2422L149 2428.8"/><path d="M149 2435L153 2438.8"/><path d="M153 2451L158 2453.8"/><path d="M158 2466L158 2473.8"/><path d="M158 2481L158 2483.8"/><path d="M157.5 2496L158 2498.8"/><path d="M158 2511L156 2520.8"/><path d="M155.5 2527L156 2533.8"/><path d="M156 2541L155.5 2544.8"/><path d="M155.5 2557L155.5 2559.8"/><path d="M155.5 2571L156 2578.8"/><path d="M156 2586L155.5 2589.8"/><path d="M155.5 2602L155.5 2605.8"/><path d="M152 2617L145 2619.8"/><path d="M114 2422C116 2450 125 2540 138 2619.8"/><path d="M140 2626L140 2633.8"/><path d="M139.5 2641L139.5 2643.8"/><path d="M139.5 2656L139.5 2659.8"/><path d="M139.5 2671L139.5 2681.8"/><path d="M139.5 2688L139.5 2691.8"/><path d="M139.5 2703L139.5 2706.8"/><path d="M139 2718L139.5 2731.8"/>
<path d="M137 2739L135.5 2742.8"/><path d="M135.5 2754L134 2757.8"/><path d="M133 2769L132 2772.8"/><path d="M127 2780.5L119 2789"/><path d="M136 2780.5L143 2787.8"/><path d="M147 2795L149 2801.8"/><path d="M150 2808L153 2812.8"/><path d="M153 2824L158 2826.8"/><path d="M158 2839L157.5 2846.8"/><path d="M158 2853L158.5 2857.8"/><path d="M158.5 2869L158.5 2872.8"/><path d="M158.5 2884L156.5 2894.8"/><path d="M156.5 2900L156 2906.8"/><path d="M156 2914L156.5 2917.8"/><path d="M156.5 2929L156.5 2932.8"/><path d="M156.5 2944L156 2952.8"/><path d="M156 2959L156.5 2962.8"/><path d="M156.5 2974L156.5 2977.8"/><path d="M152 2989L145 2993.8"/><path d="M116 2795C118 2830 128 2930 139 2993.8"/><path d="M140 3000L127 3006.8"/><path d="M126.5 3013L126.5 3018.8"/><path d="M126.5 3029L126.5 3032.8"/><path d="M126.5 3044L126.5 3054.8"/><path d="M126.5 3061L126.5 3064.8"/><path d="M126.5 3076L127 3079.8"/><path d="M127 3091L127 3105.8"/><path d="M126.5 3112L127 3115.8"/><path d="M127 3127L127 3130.8"/><path d="M127 3142L127 3145.8"/><path d="M127 3154L127 3160.8"/><path d="M127 3168L129 3174.8"/><path d="M129 3181L133 3184.8"/><path d="M133.5 3197L134.5 3199.8"/><path d="M134.5 3212L134 3219.8"/><path d="M134 3227L134 3230.8"/><path d="M134 3242L134.5 3245.8"/><path d="M130 3257L120 3261.8"/><path d="M138 3257L142 3261.8"/><path d="M120 3268L133 3274.8"/><path d="M142 3268L137 3274.8"/><path d="M135 3281L134 3285.8"/><path d="M134 3297L134 3300.8"/><path d="M134 3312L134.5 3321.8"/><path d="M134.5 3328L134 3331.8"/><path d="M134 3343L134.5 3346.8"/><path d="M134.5 3359L134.5 3366.8"/><path d="M134.5 3373L134 3376.8"/><path d="M134 3389L134 3391.8"/><path d="M134 3404L134 3408.3"/>
<path d="M118 3152C108 3165 110 3250 117 3261.8"/><path d="M136 3152C160 3165 162 3250 145 3261.8"/>
</g>

<g id="nodes">
<g id="red1"><ellipse class="red" cx="75" cy="10" rx="10" ry="4.7"/><text class="t" x="75" y="9"><tspan class="b">Arg_0.1</tspan><tspan x="75" dy="1.5">f32[1,224,224,3]</tspan><tspan x="75" dy="1.5">parameter(0)</tspan></text></g>
<g id="red2"><ellipse class="red" cx="157" cy="23" rx="9" ry="4.7"/><text class="t" x="157" y="22"><tspan class="b">Arg_1.2</tspan><tspan x="157" dy="1.5">f32[7,7,3,64]</tspan><tspan x="157" dy="1.5">parameter(1)</tspan></text></g>
<g id="a1"><ellipse class="g" cx="157" cy="39" rx="9" ry="4.5"/><text class="t" x="157" y="38"><tspan class="b">copy.3</tspan><tspan x="157" dy="1.5">f32[64,3,7,7]</tspan><tspan x="157" dy="1.5">{1,0,3,2}</tspan></text></g>
<g id="a2"><ellipse class="e" cx="157" cy="52" rx="9" ry="3.5"/><text class="t" x="157" y="51.8"><tspan class="b">bitcast.2</tspan><tspan x="157" dy="1.5">f32[147,64]</tspan></text></g>
<g id="a3"><ellipse class="g" cx="147" cy="63" rx="10" ry="4"/><text class="t" x="147" y="62"><tspan class="b">constant.7</tspan><tspan x="147" dy="1.5">f32[]</tspan><tspan x="147" dy="1.5">0</tspan></text></g>
<g id="a4"><ellipse class="e" cx="168" cy="63" rx="8" ry="3.5"/><text class="t" x="168" y="62.8"><tspan class="b">convert.9</tspan><tspan x="168" dy="1.5">bf16[147,64]</tspan></text></g>
<g id="a5"><rect class="r" x="136" y="72" width="22" height="11"/><text class="t" x="147" y="74.3"><tspan class="b">fusion.11</tspan><tspan x="147" dy="1.55">kind=kLoop</tspan><tspan x="147" dy="1.55">f32[64]</tspan><tspan x="147" dy="1.55">{0}</tspan></text></g>
<g id="a6"><ellipse class="e" cx="168" cy="77" rx="9" ry="3.5"/><text class="t" x="168" y="76.8"><tspan class="b">reshape.4</tspan><tspan x="168" dy="1.5">bf16[64,147]</tspan></text></g>
<g id="a7"><ellipse class="e" cx="169" cy="95" rx="9" ry="3.5"/><text class="t" x="169" y="94.8"><tspan class="b">transpose.2</tspan><tspan x="169" dy="1.5">bf16[64,147]</tspan></text></g>
<g id="a8"><ellipse class="e" cx="169" cy="110" rx="9" ry="3.5"/><text class="t" x="169" y="109.8"><tspan class="b">multiply.5</tspan><tspan x="169" dy="1.5">bf16[64,147]</tspan></text></g>
<g id="a9"><ellipse class="e" cx="169" cy="123" rx="9" ry="3.5"/><text class="t" x="169" y="122.8"><tspan class="b">copy.12</tspan><tspan x="169" dy="1.5">bf16[64,147]</tspan></text></g>
<g id="b1"><rect class="r" x="58" y="90" width="34" height="10"/><text class="t" x="75" y="92.2"><tspan class="b">convolution.1</tspan><tspan x="75" dy="1.5">f32[1,112,112,64]</tspan><tspan x="75" dy="1.5">window={size=7x7 stride=2x2 pad=3_3x3_3}</tspan><tspan x="75" dy="1.5">dim_labels=b01f_01io-&gt;b01f</tspan></text></g>
<g id="b2"><rect class="w" x="68" y="107" width="20" height="7"/><text class="t" x="78" y="109.8"><tspan class="b">param.0</tspan><tspan x="78" dy="1.5">f32[1,224,224,3]</tspan></text></g>
<g id="b3"><rect class="r" x="66" y="117" width="23" height="12"/><text class="t" x="77.5" y="119.3"><tspan class="b">pad.2</tspan><tspan x="77.5" dy="1.55">f32[1,230,230,3]</tspan><tspan x="77.5" dy="1.55">padding=0_0x3_3x3_3x0_0</tspan><tspan x="77.5" dy="1.55">calls=fused_comp.2</tspan></text></g>
<g id="c1"><rect class="r" x="97" y="90" width="33" height="10"/><text class="t" x="113.5" y="92.2"><tspan class="b">convolution.2</tspan><tspan x="113.5" dy="1.5">f32[1,112,112,64]</tspan><tspan x="113.5" dy="1.5">window={size=7x7 stride=2x2}</tspan><tspan x="113.5" dy="1.5">dim_labels=b01f_01io-&gt;b01f</tspan></text></g>
<g id="c2"><rect class="w" x="103" y="107" width="17" height="7"/><text class="t" x="111.5" y="109.8"><tspan class="b">param.1</tspan><tspan x="111.5" dy="1.5">f32[64,7,7,3]</tspan></text></g>
<g id="c3"><rect class="r" x="105" y="117" width="18" height="12"/><text class="t" x="114" y="119.3"><tspan class="b">pad.3</tspan><tspan x="114" dy="1.55">f32[64,7,7,3]</tspan><tspan x="114" dy="1.55">kind=kInput</tspan><tspan x="114" dy="1.55">calls=fused.3</tspan></text></g>
<g id="r1"><rect class="r" x="13" y="134" width="42" height="11"/><text class="t" x="34" y="136.3"><tspan class="b">add.5</tspan><tspan x="34" dy="1.55">f32[1,112,112,64]</tspan><tspan x="34" dy="1.55">metadata={op_type=Add op_name=bn_conv1/add}</tspan><tspan x="34" dy="1.55">source_line=212</tspan></text></g>
<g id="r2"><rect class="r" x="55" y="134" width="45" height="11"/><text class="t" x="77.5" y="136.3"><tspan class="b">multiply.6</tspan><tspan x="77.5" dy="1.55">f32[1,112,112,64]</tspan><tspan x="77.5" dy="1.55">metadata={op_type=Mul op_name=bn_conv1/mul}</tspan><tspan x="77.5" dy="1.55">source_line=213</tspan></text></g>

<g id="d1"><rect class="w" x="32" y="157" width="11" height="7"/><text class="t" x="37.5" y="159.8"><tspan class="b">param.2</tspan><tspan x="37.5" dy="1.5">s32[]</tspan></text></g>
<g id="d2"><rect class="r" x="28" y="168" width="22" height="11"/><text class="t" x="39" y="170.3"><tspan class="b">fusion.14</tspan><tspan x="39" dy="1.55">kind=kLoop</tspan><tspan x="39" dy="1.55">f32[1,56,56,64]</tspan><tspan x="39" dy="1.55">{3,2,1,0}</tspan></text></g>
<g id="d3"><rect class="r" x="21" y="183" width="36" height="10"/><text class="t" x="39" y="185.2"><tspan class="b">reduce-window.1</tspan><tspan x="39" dy="1.5">f32[1,56,56,64]</tspan><tspan x="39" dy="1.5">window={size=1x3x3x1 stride=1x2x2x1}</tspan><tspan x="39" dy="1.5">to_apply=max_F32</tspan></text></g>
<g id="d4"><ellipse class="e" cx="31" cy="202" rx="11" ry="4"/><text class="t" x="31" y="201"><tspan class="b">tuple.3</tspan><tspan x="31" dy="1.5">(s32[], f32[1,56,56,64])</tspan><tspan x="31" dy="1.5">{0}</tspan></text></g>
<g id="d5"><ellipse class="e" cx="38" cy="217" rx="9" ry="3"/><text class="t" x="38" y="216.8"><tspan class="b">gte.4</tspan><tspan x="38" dy="1.5">s32[]</tspan></text></g>
<g id="d6"><ellipse class="e" cx="38" cy="228" rx="10" ry="3"/><text class="t" x="38" y="227.8"><tspan class="b">add.7</tspan><tspan x="38" dy="1.5">s32[] add(gte, c)</tspan></text></g>
<g id="d7"><ellipse class="e" cx="37" cy="238" rx="9" ry="3"/><text class="t" x="37" y="237.8"><tspan class="b">compare.2</tspan><tspan x="37" dy="1.5">pred[] LT</tspan></text></g>
<g id="d8"><ellipse class="e" cx="64" cy="238" rx="10" ry="3"/><text class="t" x="64" y="237.8"><tspan class="b">gte.5</tspan><tspan x="64" dy="1.5">f32[1,56,56,64]</tspan></text></g>
<g id="d9"><ellipse class="e" cx="37" cy="253" rx="9" ry="3"/><text class="t" x="37" y="252.8"><tspan class="b">select.1</tspan><tspan x="37" dy="1.5">s32[]</tspan></text></g>
<g id="d10"><ellipse class="e" cx="37" cy="268" rx="9" ry="3"/><text class="t" x="37" y="267.8"><tspan class="b">convert.3</tspan><tspan x="37" dy="1.5">f32[]</tspan></text></g>
<g id="d11"><ellipse class="g" cx="36" cy="282" rx="8" ry="4.5"/><text class="t" x="36" y="281"><tspan class="b">constant.9</tspan><tspan x="36" dy="1.5">f32[]</tspan><tspan x="36" dy="1.5">1e-05</tspan></text></g>
<g id="d12"><ellipse class="e" cx="54" cy="282" rx="9" ry="3.5"/><text class="t" x="54" y="281.8"><tspan class="b">broadcast.3</tspan><tspan x="54" dy="1.5">f32[64]</tspan></text></g>
<g id="d13"><ellipse class="e" cx="54" cy="296" rx="9" ry="4"/><text class="t" x="54" y="295"><tspan class="b">add.8</tspan><tspan x="54" dy="1.5">f32[64]</tspan><tspan x="54" dy="1.5">{0}</tspan></text></g>
<g id="d14"><ellipse class="e" cx="77" cy="296" rx="9" ry="4"/><text class="t" x="77" y="295"><tspan class="b">rsqrt.1</tspan><tspan x="77" dy="1.5">f32[64]</tspan><tspan x="77" dy="1.5">{0}</tspan></text></g>
<g id="d15"><ellipse class="e" cx="62" cy="307" rx="10" ry="3.5"/><text class="t" x="62" y="306.8"><tspan class="b">multiply.9</tspan><tspan x="62" dy="1.5">f32[64]</tspan></text></g>
<g id="d16"><ellipse class="e" cx="52" cy="318" rx="9" ry="3"/><text class="t" x="52" y="317.8"><tspan class="b">broadcast.4</tspan><tspan x="52" dy="1.5">f32[1,56,56,64]</tspan></text></g>
<g id="d17"><ellipse class="e" cx="77" cy="318" rx="9" ry="3"/><text class="t" x="77" y="317.8"><tspan class="b">negate.1</tspan><tspan x="77" dy="1.5">f32[64]</tspan></text></g>
<g id="d18"><rect class="r" x="56" y="247" width="22" height="12"/><text class="t" x="67" y="249.3"><tspan class="b">reduce.4</tspan><tspan x="67" dy="1.55">f32[64]</tspan><tspan x="67" dy="1.55">dimensions={0,1,2}</tspan><tspan x="67" dy="1.55">to_apply=add_F32</tspan></text></g>
<g id="d19"><rect class="r" x="50" y="263" width="44" height="11"/><text class="t" x="72" y="265.3"><tspan class="b">divide.2</tspan><tspan x="72" dy="1.55">f32[64]</tspan><tspan x="72" dy="1.55">metadata={op_type=Mean op_name=bn2a/moments/mean}</tspan><tspan x="72" dy="1.55">source_line=231</tspan></text></g>
<g id="d20"><rect class="r" x="38" y="328" width="20" height="11"/><text class="t" x="48" y="330.3"><tspan class="b">fusion.16</tspan><tspan x="48" dy="1.55">kind=kLoop</tspan><tspan x="48" dy="1.55">f32[1,56,56,64]</tspan><tspan x="48" dy="1.55">{3,2,1,0}</tspan></text></g>
<g id="d21"><rect class="r" x="31" y="343" width="36" height="11"/><text class="t" x="49" y="345.3"><tspan class="b">maximum.2</tspan><tspan x="49" dy="1.55">f32[1,56,56,64]</tspan><tspan x="49" dy="1.55">metadata={op_type=Relu op_name=relu_2a}</tspan><tspan x="49" dy="1.55">source_line=240</tspan></text></g>
<g id="d22"><rect class="r" x="68" y="328" width="25" height="11"/><text class="t" x="80.5" y="330.3"><tspan class="b">multiply.10</tspan><tspan x="80.5" dy="1.55">f32[64]</tspan><tspan x="80.5" dy="1.55">kind=kLoop</tspan><tspan x="80.5" dy="1.55">{0}</tspan></text></g>
<g id="d23"><rect class="w" x="39" y="363" width="14" height="7"/><text class="t" x="46" y="365.8"><tspan class="b">param.3</tspan><tspan x="46" dy="1.5">f32[1,56,56,64]</tspan></text></g>
<g id="d24"><rect class="w" x="43" y="378" width="13" height="6"/><text class="t" x="49.5" y="380.5"><tspan class="b">param.4</tspan><tspan x="49.5" dy="1.5">f32[1,1,64,64]</tspan></text></g>
<g id="d25"><rect class="r" x="43" y="388" width="24" height="10"/><text class="t" x="55" y="390.2"><tspan class="b">fusion.17</tspan><tspan x="55" dy="1.5">kind=kLoop</tspan><tspan x="55" dy="1.5">bf16[1,56,56,64]</tspan><tspan x="55" dy="1.5">{3,2,1,0}</tspan></text></g>
<g id="d26"><rect class="r" x="38" y="403" width="44" height="11"/><text class="t" x="60" y="405.3"><tspan class="b">convolution.3</tspan><tspan x="60" dy="1.55">f32[1,56,56,64]</tspan><tspan x="60" dy="1.55">window={size=1x1} dim_labels=b01f_01io-&gt;b01f</tspan><tspan x="60" dy="1.55">metadata={op_name=res2a_branch2a}</tspan></text></g>
<g id="d27"><rect class="w" x="52" y="423" width="16" height="6"/><text class="t" x="60" y="425.5"><tspan class="b">param.5</tspan><tspan x="60" dy="1.5">f32[3,3,64,64]</tspan></text></g>
<g id="d28"><rect class="r" x="48" y="434" width="23" height="10"/><text class="t" x="59.5" y="436.2"><tspan class="b">fusion.18</tspan><tspan x="59.5" dy="1.5">kind=kLoop</tspan><tspan x="59.5" dy="1.5">bf16[1,56,56,64]</tspan><tspan x="59.5" dy="1.5">{3,2,1,0}</tspan></text></g>
<g id="d29"><rect class="r" x="38" y="448" width="44" height="12"/><text class="t" x="60" y="450.3"><tspan class="b">convolution.4</tspan><tspan x="60" dy="1.55">f32[1,56,56,64]</tspan><tspan x="60" dy="1.55">window={size=3x3 pad=1_1x1_1} dim_labels=b01f_01io-&gt;b01f</tspan><tspan x="60" dy="1.55">metadata={op_name=res2a_branch2b}</tspan></text></g>
<g id="d30"><ellipse class="e" cx="31" cy="475" rx="10" ry="3"/><text class="t" x="31" y="474.8"><tspan class="b">gte.6</tspan><tspan x="31" dy="1.5">s32[]</tspan></text></g>
<g id="d31"><ellipse class="e" cx="54" cy="475" rx="10" ry="3"/><text class="t" x="54" y="474.8"><tspan class="b">gte.7</tspan><tspan x="54" dy="1.5">f32[1,56,56,64]</tspan></text></g>
<g id="d32"><rect class="w" x="32" y="487" width="15" height="6"/><text class="t" x="39.5" y="489.5"><tspan class="b">param.6</tspan><tspan x="39.5" dy="1.5">f32[1,56,56,64]</tspan></text></g>
<g id="d33"><rect class="r" x="27" y="497" width="23" height="11"/><text class="t" x="38.5" y="499.3"><tspan class="b">fusion.19</tspan><tspan x="38.5" dy="1.55">kind=kLoop</tspan><tspan x="38.5" dy="1.55">f32[1,56,56,256]</tspan><tspan x="38.5" dy="1.55">{3,2,1,0}</tspan></text></g>
<g id="d34"><rect class="r" x="21" y="512" width="35" height="11"/><text class="t" x="38.5" y="514.3"><tspan class="b">add.11</tspan><tspan x="38.5" dy="1.55">f32[1,56,56,256]</tspan><tspan x="38.5" dy="1.55">metadata={op_type=AddV2 op_name=add_1}</tspan><tspan x="38.5" dy="1.55">source_line=260</tspan></text></g>
<g id="e1"><ellipse class="e" cx="29" cy="539" rx="12" ry="4"/><text class="t" x="29" y="538"><tspan class="b">while.1</tspan><tspan x="29" dy="1.5">(s32[], f32[1,56,56,256])</tspan><tspan x="29" dy="1.5">condition=cond.1</tspan></text></g>
<g id="e2"><rect class="w" x="23" y="552" width="14" height="7"/><text class="t" x="30" y="554.8"><tspan class="b">param.7</tspan><tspan x="30" dy="1.5">f32[1,56,56,256]</tspan></text></g>
<g id="e3"><rect class="r" x="22" y="562" width="20" height="11"/><text class="t" x="32" y="564.3"><tspan class="b">fusion.20</tspan><tspan x="32" dy="1.55">kind=kLoop</tspan><tspan x="32" dy="1.55">f32[1,56,56,256]</tspan><tspan x="32" dy="1.55">{3,2,1,0}</tspan></text></g>
<g id="red3"><ellipse class="red" cx="123" cy="518" rx="11" ry="4.5"/><text class="t" x="123" y="517"><tspan class="b">Arg_2.3</tspan><tspan x="123" dy="1.5">f32[1,1,256,128]</tspan><tspan x="123" dy="1.5">parameter(2)</tspan></text></g>
<g id="f1"><rect class="r" x="106" y="534" width="34" height="10"/><text class="t" x="123" y="536.2"><tspan class="b">convolution.5</tspan><tspan x="123" dy="1.5">f32[1,28,28,128]</tspan><tspan x="123" dy="1.5">window={size=1x1 stride=2x2}</tspan><tspan x="123" dy="1.5">dim_labels=b01f_01io-&gt;b01f</tspan></text></g>
<g id="f2"><rect class="w" x="115" y="551" width="18" height="6"/><text class="t" x="124" y="553.5"><tspan class="b">param.8</tspan><tspan x="124" dy="1.5">f32[1,1,256,128]</tspan></text></g>
<g id="f3"><rect class="r" x="112" y="562" width="22" height="11"/><text class="t" x="123" y="564.3"><tspan class="b">convert.11</tspan><tspan x="123" dy="1.55">bf16[1,1,256,128]</tspan><tspan x="123" dy="1.55">kind=kLoop</tspan><tspan x="123" dy="1.55">{3,2,1,0}</tspan></text></g>
<g id="g1"><rect class="r" x="156" y="534" width="35" height="10"/><text class="t" x="173.5" y="536.2"><tspan class="b">convolution.6</tspan><tspan x="173.5" dy="1.5">f32[1,28,28,512]</tspan><tspan x="173.5" dy="1.5">window={size=1x1 stride=2x2}</tspan><tspan x="173.5" dy="1.5">dim_labels=b01f_01io-&gt;b01f</tspan></text></g>
<g id="g2"><rect class="w" x="165" y="551" width="17" height="6"/><text class="t" x="173.5" y="553.5"><tspan class="b">param.9</tspan><tspan x="173.5" dy="1.5">f32[1,1,256,512]</tspan></text></g>
<g id="g3"><rect class="r" x="161" y="562" width="24" height="11"/><text class="t" x="173" y="564.3"><tspan class="b">convert.12</tspan><tspan x="173" dy="1.55">bf16[1,1,256,512]</tspan><tspan x="173" dy="1.55">kind=kLoop</tspan><tspan x="173" dy="1.55">{3,2,1,0}</tspan></text></g>
<g id="red4"><ellipse class="red" cx="217" cy="454" rx="10" ry="4.5"/><text class="t" x="217" y="453"><tspan class="b">Arg_3.4</tspan><tspan x="217" dy="1.5">f32[128]</tspan><tspan x="217" dy="1.5">parameter(3)</tspan></text></g>
<g id="red5"><ellipse class="red" cx="266" cy="454" rx="10" ry="4.5"/><text class="t" x="266" y="453"><tspan class="b">Arg_4.5</tspan><tspan x="266" dy="1.5">f32[128]</tspan><tspan x="266" dy="1.5">parameter(4)</tspan></text></g>
<g id="h1"><ellipse class="g" cx="217" cy="475" rx="10" ry="4.5"/><text class="t" x="217" y="474"><tspan class="b">param.10</tspan><tspan x="217" dy="1.5">f32[128]</tspan><tspan x="217" dy="1.5">parameter(0)</tspan></text></g>
<g id="h2"><ellipse class="e" cx="217" cy="490" rx="9" ry="3.5"/><text class="t" x="217" y="489.8"><tspan class="b">reshape.7</tspan><tspan x="217" dy="1.5">f32[1,128]</tspan></text></g>
<g id="h3"><ellipse class="g" cx="206" cy="502" rx="10" ry="4"/><text class="t" x="206" y="501"><tspan class="b">constant.12</tspan><tspan x="206" dy="1.5">f32[]</tspan><tspan x="206" dy="1.5">0.001</tspan></text></g>
<g id="h4"><ellipse class="e" cx="229" cy="502" rx="9" ry="3.5"/><text class="t" x="229" y="501.8"><tspan class="b">convert.13</tspan><tspan x="229" dy="1.5">f32[1,128]</tspan></text></g>
<g id="h5"><rect class="r" x="196" y="513" width="22" height="10"/><text class="t" x="207" y="515.2"><tspan class="b">broadcast.6</tspan><tspan x="207" dy="1.5">f32[1,128]</tspan><tspan x="207" dy="1.5">dimensions={}</tspan><tspan x="207" dy="1.5">{1,0}</tspan></text></g>
<g id="h6"><ellipse class="e" cx="230" cy="517" rx="9" ry="3.5"/><text class="t" x="230" y="516.8"><tspan class="b">multiply.12</tspan><tspan x="230" dy="1.5">f32[1,128]</tspan></text></g>
<g id="h7"><ellipse class="e" cx="230" cy="539" rx="9" ry="3"/><text class="t" x="230" y="538.8"><tspan class="b">bitcast.5</tspan><tspan x="230" dy="1.5">f32[128]</tspan></text></g>
<g id="h8"><ellipse class="e" cx="230" cy="554" rx="9" ry="3"/><text class="t" x="230" y="553.8"><tspan class="b">copy.14</tspan><tspan x="230" dy="1.5">f32[128]</tspan></text></g>
<g id="h9"><ellipse class="e" cx="230" cy="567" rx="9" ry="3"/><text class="t" x="230" y="566.8"><tspan class="b">convert.14</tspan><tspan x="230" dy="1.5">bf16[128]</tspan></text></g>
<g id="i1"><ellipse class="g" cx="266" cy="475" rx="10" ry="4.5"/><text class="t" x="266" y="474"><tspan class="b">param.11</tspan><tspan x="266" dy="1.5">f32[128]</tspan><tspan x="266" dy="1.5">parameter(0)</tspan></text></g>
<g id="i2"><ellipse class="e" cx="266" cy="490" rx="9" ry="3.5"/><text class="t" x="266" y="489.8"><tspan class="b">reshape.8</tspan><tspan x="266" dy="1.5">f32[1,128]</tspan></text></g>
<g id="i3"><ellipse class="g" cx="254" cy="502" rx="10" ry="4"/><text class="t" x="254" y="501"><tspan class="b">constant.13</tspan><tspan x="254" dy="1.5">f32[]</tspan><tspan x="254" dy="1.5">1</tspan></text></g>
<g id="i4"><ellipse class="e" cx="277" cy="502" rx="9" ry="3.5"/><text class="t" x="277" y="501.8"><tspan class="b">convert.15</tspan><tspan x="277" dy="1.5">f32[1,128]</tspan></text></g>
<g id="i5"><ellipse class="e" cx="254" cy="517" rx="9" ry="3.5"/><text class="t" x="254" y="516.8"><tspan class="b">subtract.3</tspan><tspan x="254" dy="1.5">f32[1,128]</tspan></text></g>
<g id="i6"><rect class="r" x="265" y="513" width="22" height="10"/><text class="t" x="276" y="515.2"><tspan class="b">broadcast.7</tspan><tspan x="276" dy="1.5">f32[1,128]</tspan><tspan x="276" dy="1.5">dimensions={}</tspan><tspan x="276" dy="1.5">{1,0}</tspan></text></g>
<g id="i7"><ellipse class="e" cx="257" cy="539" rx="9" ry="3"/><text class="t" x="257" y="538.8"><tspan class="b">bitcast.6</tspan><tspan x="257" dy="1.5">f32[128]</tspan></text></g>
<g id="i8"><ellipse class="e" cx="257" cy="554" rx="9" ry="3"/><text class="t" x="257" y="553.8"><tspan class="b">copy.15</tspan><tspan x="257" dy="1.5">f32[128]</tspan></text></g>
<g id="i9"><ellipse class="e" cx="257" cy="567" rx="9" ry="3"/><text class="t" x="257" y="566.8"><tspan class="b">convert.16</tspan><tspan x="257" dy="1.5">bf16[128]</tspan></text></g>
<g id="s1"><rect class="r" x="3" y="578" width="52" height="11"/><text class="t" x="29" y="580.3"><tspan class="b">convolution.7</tspan><tspan x="29" dy="1.55">f32[1,56,56,128]</tspan><tspan x="29" dy="1.55">window={size=1x1} dim_labels=b01f_01io-&gt;b01f feature_group_count=1</tspan><tspan x="29" dy="1.55">metadata={op_name=res3a_branch2a}</tspan></text></g>
<g id="s2"><rect class="r" x="56" y="578" width="45" height="11"/><text class="t" x="78.5" y="580.3"><tspan class="b">convolution.8</tspan><tspan x="78.5" dy="1.55">f32[1,28,28,128]</tspan><tspan x="78.5" dy="1.55">window={size=3x3 stride=2x2 pad=1_1x1_1} dim_labels=b01f</tspan><tspan x="78.5" dy="1.55">metadata={op_name=res3a_branch2b}</tspan></text></g>
<g id="s3"><rect class="r" x="102" y="578" width="43" height="11"/><text class="t" x="123.5" y="580.3"><tspan class="b">convolution.9</tspan><tspan x="123.5" dy="1.55">f32[1,28,28,512]</tspan><tspan x="123.5" dy="1.55">window={size=1x1 stride=2x2} dim_labels=b01f_01io-&gt;b01f</tspan><tspan x="123.5" dy="1.55">metadata={op_name=res3a_branch1}</tspan></text></g>
<g id="s4"><rect class="r" x="217" y="578" width="25" height="10"/><text class="t" x="229.5" y="580.2"><tspan class="b">tuple.6</tspan><tspan x="229.5" dy="1.5">(bf16[128], bf16[128])</tspan><tspan x="229.5" dy="1.5">kind=kLoop</tspan><tspan x="229.5" dy="1.5">{0}</tspan></text></g>

<g id="j1"><rect class="w" x="24" y="601" width="13" height="7"/><text class="t" x="30.5" y="603.8"><tspan class="b">param.12</tspan><tspan x="30.5" dy="1.5">s32[]</tspan></text></g>
<g id="j2"><rect class="r" x="17" y="612" width="22" height="11"/><text class="t" x="28" y="614.3"><tspan class="b">fusion.23</tspan><tspan x="28" dy="1.55">kind=kLoop</tspan><tspan x="28" dy="1.55">f32[1,28,28,128]</tspan><tspan x="28" dy="1.55">{3,2,1,0}</tspan></text></g>
<g id="j3"><rect class="r" x="9" y="627" width="35" height="10"/><text class="t" x="26.5" y="629.2"><tspan class="b">add.14</tspan><tspan x="26.5" dy="1.5">f32[1,28,28,128]</tspan><tspan x="26.5" dy="1.5">metadata={op_type=Add op_name=bn3a/add}</tspan><tspan x="26.5" dy="1.5">source_line=281</tspan></text></g>
<g id="j4"><ellipse class="e" cx="17" cy="646" rx="12" ry="4"/><text class="t" x="17" y="645"><tspan class="b">tuple.8</tspan><tspan x="17" dy="1.5">(s32[], f32[1,28,28,128])</tspan><tspan x="17" dy="1.5">{0}</tspan></text></g>
<g id="j5"><ellipse class="e" cx="27" cy="661" rx="10" ry="3"/><text class="t" x="27" y="660.8"><tspan class="b">gte.9</tspan><tspan x="27" dy="1.5">s32[]</tspan></text></g>
<g id="j6"><ellipse class="e" cx="27" cy="672" rx="10" ry="3"/><text class="t" x="27" y="671.8"><tspan class="b">add.15</tspan><tspan x="27" dy="1.5">s32[]</tspan></text></g>
<g id="j7"><ellipse class="e" cx="27" cy="682" rx="10" ry="3"/><text class="t" x="27" y="681.8"><tspan class="b">compare.4</tspan><tspan x="27" dy="1.5">pred[] LT</tspan></text></g>
<g id="j8"><ellipse class="e" cx="57" cy="682" rx="10" ry="3"/><text class="t" x="57" y="681.8"><tspan class="b">gte.10</tspan><tspan x="57" dy="1.5">f32[1,28,28,128]</tspan></text></g>
<g id="j9"><ellipse class="e" cx="25" cy="697" rx="9" ry="3"/><text class="t" x="25" y="696.8"><tspan class="b">select.2</tspan><tspan x="25" dy="1.5">s32[]</tspan></text></g>
<g id="j10"><ellipse class="e" cx="25" cy="712" rx="9" ry="3"/><text class="t" x="25" y="711.8"><tspan class="b">convert.17</tspan><tspan x="25" dy="1.5">f32[]</tspan></text></g>
<g id="j11"><ellipse class="g" cx="24" cy="726" rx="8" ry="4.5"/><text class="t" x="24" y="725"><tspan class="b">constant.15</tspan><tspan x="24" dy="1.5">f32[]</tspan><tspan x="24" dy="1.5">1e-05</tspan></text></g>
<g id="j12"><ellipse class="e" cx="45" cy="727" rx="9" ry="3"/><text class="t" x="45" y="726.8"><tspan class="b">broadcast.9</tspan><tspan x="45" dy="1.5">f32[128]</tspan></text></g>
<g id="j13"><ellipse class="e" cx="44" cy="739" rx="9" ry="3.5"/><text class="t" x="44" y="738.8"><tspan class="b">add.16</tspan><tspan x="44" dy="1.5">f32[128]</tspan></text></g>
<g id="j14"><ellipse class="e" cx="67" cy="739" rx="9" ry="3.5"/><text class="t" x="67" y="738.8"><tspan class="b">rsqrt.2</tspan><tspan x="67" dy="1.5">f32[128]</tspan></text></g>
<g id="j15"><ellipse class="e" cx="54" cy="751" rx="10" ry="3.5"/><text class="t" x="54" y="750.8"><tspan class="b">multiply.15</tspan><tspan x="54" dy="1.5">f32[128]</tspan></text></g>
<g id="j16"><rect class="r" x="48" y="692" width="22" height="11"/><text class="t" x="59" y="694.3"><tspan class="b">reduce.7</tspan><tspan x="59" dy="1.55">f32[128]</tspan><tspan x="59" dy="1.55">dimensions={0,1,2}</tspan><tspan x="59" dy="1.55">to_apply=add_F32</tspan></text></g>
<g id="j17"><rect class="r" x="39" y="708" width="43" height="10"/><text class="t" x="60.5" y="710.2"><tspan class="b">divide.4</tspan><tspan x="60.5" dy="1.5">f32[128]</tspan><tspan x="60.5" dy="1.5">metadata={op_type=Mean op_name=bn3a/moments/mean}</tspan><tspan x="60.5" dy="1.5">source_line=290</tspan></text></g>
<g id="j18"><ellipse class="e" cx="34" cy="762" rx="10" ry="3"/><text class="t" x="34" y="761.8"><tspan class="b">broadcast.10</tspan><tspan x="34" dy="1.5">f32[1,28,28,128]</tspan></text></g>
<g id="j19"><ellipse class="e" cx="66" cy="762" rx="10" ry="3"/><text class="t" x="66" y="761.8"><tspan class="b">negate.2</tspan><tspan x="66" dy="1.5">f32[128]</tspan></text></g>
<g id="j20"><rect class="r" x="23" y="772" width="22" height="11"/><text class="t" x="34" y="774.3"><tspan class="b">fusion.25</tspan><tspan x="34" dy="1.55">kind=kLoop</tspan><tspan x="34" dy="1.55">f32[1,28,28,128]</tspan><tspan x="34" dy="1.55">{3,2,1,0}</tspan></text></g>
<g id="j21"><rect class="r" x="15" y="788" width="36" height="11"/><text class="t" x="33" y="790.3"><tspan class="b">maximum.4</tspan><tspan x="33" dy="1.55">f32[1,28,28,128]</tspan><tspan x="33" dy="1.55">metadata={op_type=Relu op_name=relu_3a}</tspan><tspan x="33" dy="1.55">source_line=296</tspan></text></g>
<g id="j22"><rect class="r" x="54" y="772" width="25" height="10"/><text class="t" x="66.5" y="774.2"><tspan class="b">multiply.16</tspan><tspan x="66.5" dy="1.5">f32[128]</tspan><tspan x="66.5" dy="1.5">kind=kLoop</tspan><tspan x="66.5" dy="1.5">{0}</tspan></text></g>
<g id="j23"><rect class="w" x="25" y="809" width="17" height="7"/><text class="t" x="33.5" y="811.8"><tspan class="b">param.13</tspan><tspan x="33.5" dy="1.5">f32[1,28,28,128]</tspan></text></g>
<g id="j24"><rect class="w" x="29" y="827" width="17" height="6"/><text class="t" x="37.5" y="829.5"><tspan class="b">param.14</tspan><tspan x="37.5" dy="1.5">f32[1,1,128,128]</tspan></text></g>
<g id="j25"><rect class="r" x="30" y="838" width="22" height="12"/><text class="t" x="41" y="840.3"><tspan class="b">fusion.26</tspan><tspan x="41" dy="1.55">kind=kLoop</tspan><tspan x="41" dy="1.55">bf16[1,28,28,128]</tspan><tspan x="41" dy="1.55">{3,2,1,0}</tspan></text></g>
<g id="j26"><rect class="r" x="24" y="854" width="44" height="11"/><text class="t" x="46" y="856.3"><tspan class="b">convolution.10</tspan><tspan x="46" dy="1.55">f32[1,28,28,128]</tspan><tspan x="46" dy="1.55">window={size=1x1} dim_labels=b01f_01io-&gt;b01f</tspan><tspan x="46" dy="1.55">metadata={op_name=res3b_branch2a}</tspan></text></g>
<g id="j27"><rect class="w" x="38" y="873" width="16" height="7"/><text class="t" x="46" y="875.8"><tspan class="b">param.15</tspan><tspan x="46" dy="1.5">f32[3,3,128,128]</tspan></text></g>
<g id="j28"><rect class="r" x="39" y="884" width="18" height="11"/><text class="t" x="48" y="886.3"><tspan class="b">fusion.27</tspan><tspan x="48" dy="1.55">kind=kLoop</tspan><tspan x="48" dy="1.55">bf16[1,28,28,128]</tspan><tspan x="48" dy="1.55">{3,2,1,0}</tspan></text></g>
<g id="j29"><rect class="r" x="24" y="899" width="44" height="12"/><text class="t" x="46" y="901.3"><tspan class="b">convolution.11</tspan><tspan x="46" dy="1.55">f32[1,28,28,128]</tspan><tspan x="46" dy="1.55">window={size=3x3 pad=1_1x1_1} dim_labels=b01f_01io-&gt;b01f</tspan><tspan x="46" dy="1.55">metadata={op_name=res3b_branch2b}</tspan></text></g>
<g id="j30"><ellipse class="e" cx="17" cy="918" rx="10" ry="3"/><text class="t" x="17" y="917.8"><tspan class="b">gte.11</tspan><tspan x="17" dy="1.5">s32[]</tspan></text></g>
<g id="j31"><ellipse class="e" cx="45" cy="918" rx="10" ry="3"/><text class="t" x="45" y="917.8"><tspan class="b">gte.12</tspan><tspan x="45" dy="1.5">f32[1,28,28,128]</tspan></text></g>
<g id="j32"><rect class="w" x="29" y="928" width="17" height="7"/><text class="t" x="37.5" y="930.8"><tspan class="b">param.16</tspan><tspan x="37.5" dy="1.5">f32[1,28,28,128]</tspan></text></g>
<g id="j33"><rect class="r" x="25" y="940" width="23" height="12"/><text class="t" x="36.5" y="942.3"><tspan class="b">fusion.28</tspan><tspan x="36.5" dy="1.55">kind=kLoop</tspan><tspan x="36.5" dy="1.55">f32[1,28,28,512]</tspan><tspan x="36.5" dy="1.55">{3,2,1,0}</tspan></text></g>
<g id="j34"><rect class="r" x="19" y="956" width="36" height="11"/><text class="t" x="37" y="958.3"><tspan class="b">add.19</tspan><tspan x="37" dy="1.55">f32[1,28,28,512]</tspan><tspan x="37" dy="1.55">metadata={op_type=AddV2 op_name=add_4}</tspan><tspan x="37" dy="1.55">source_line=310</tspan></text></g>

<g id="k1"><ellipse class="e" cx="173" cy="793" rx="9" ry="3"/><text class="t" x="173" y="792.8"><tspan class="b">tuple.10</tspan><tspan x="173" dy="1.5">(s32[], f32[...])</tspan></text></g>
<g id="k2"><rect class="r" x="162" y="807" width="24" height="12"/><text class="t" x="174" y="809.3"><tspan class="b">get-tuple-element.13</tspan><tspan x="174" dy="1.55">f32[1,28,28,512]</tspan><tspan x="174" dy="1.55">index=1</tspan><tspan x="174" dy="1.55">{3,2,1,0}</tspan></text></g>
<g id="k3"><ellipse class="e" cx="173" cy="829" rx="9" ry="3.5"/><text class="t" x="173" y="828.8"><tspan class="b">param.17</tspan><tspan x="173" dy="1.5">f32[1,28,28,512]</tspan></text></g>
<g id="k4"><ellipse class="e" cx="173" cy="844" rx="8" ry="3"/><text class="t" x="173" y="843.8"><tspan class="b">bitcast.8</tspan><tspan x="173" dy="1.5">f32[784,512]</tspan></text></g>
<g id="k5"><ellipse class="g" cx="173" cy="859" rx="17" ry="6"/><text class="t" x="173" y="857.6"><tspan class="b">constant.18</tspan><tspan x="173" dy="1.5">f32[512,128]</tspan><tspan x="173" dy="1.5">{{0.012, -0.031, 0.004, ...}}</tspan></text></g>
<g id="k6"><ellipse class="e" cx="173" cy="877" rx="7" ry="3"/><text class="t" x="173" y="876.8"><tspan class="b">dot.1</tspan><tspan x="173" dy="1.5">f32[784,128]</tspan></text></g>
<g id="k7"><ellipse class="e" cx="173" cy="889" rx="8" ry="3"/><text class="t" x="173" y="888.8"><tspan class="b">bitcast.9</tspan><tspan x="173" dy="1.5">f32[1,28,28,128]</tspan></text></g>
<g id="k8"><ellipse class="e" cx="173" cy="904" rx="8" ry="3.5"/><text class="t" x="173" y="903.8"><tspan class="b">reduce.9</tspan><tspan x="173" dy="1.5">f32[128]</tspan></text></g>
<g id="k9"><ellipse class="e" cx="196" cy="904" rx="7" ry="3.5"/><text class="t" x="196" y="903.8"><tspan class="b">multiply.18</tspan><tspan x="196" dy="1.5">f32[784,128]</tspan></text></g>
<g id="k10"><ellipse class="e" cx="173" cy="918" rx="8" ry="3"/><text class="t" x="173" y="917.8"><tspan class="b">divide.5</tspan><tspan x="173" dy="1.5">f32[128]</tspan></text></g>
<g id="k11"><ellipse class="e" cx="196" cy="918" rx="7" ry="3"/><text class="t" x="196" y="917.8"><tspan class="b">reduce.10</tspan><tspan x="196" dy="1.5">f32[128]</tspan></text></g>
<g id="k12"><ellipse class="e" cx="173" cy="932" rx="8" ry="3.5"/><text class="t" x="173" y="931.8"><tspan class="b">multiply.19</tspan><tspan x="173" dy="1.5">f32[128]</tspan></text></g>
<g id="k13"><ellipse class="e" cx="196" cy="932" rx="8" ry="3.5"/><text class="t" x="196" y="931.8"><tspan class="b">divide.6</tspan><tspan x="196" dy="1.5">f32[128]</tspan></text></g>
<g id="k14"><ellipse class="e" cx="173" cy="946" rx="8" ry="3"/><text class="t" x="173" y="945.8"><tspan class="b">subtract.5</tspan><tspan x="173" dy="1.5">f32[128]</tspan></text></g>
<g id="k15"><ellipse class="e" cx="195" cy="946" rx="8" ry="3"/><text class="t" x="195" y="945.8"><tspan class="b">add.21</tspan><tspan x="195" dy="1.5">f32[128]</tspan></text></g>
<g id="k16"><ellipse class="e" cx="160" cy="961" rx="9" ry="3"/><text class="t" x="160" y="960.8"><tspan class="b">maximum.5</tspan><tspan x="160" dy="1.5">f32[128]</tspan></text></g>
<g id="k17"><ellipse class="e" cx="195" cy="961" rx="8" ry="3"/><text class="t" x="195" y="960.8"><tspan class="b">rsqrt.3</tspan><tspan x="195" dy="1.5">f32[128]</tspan></text></g>
<g id="k18"><ellipse class="e" cx="217" cy="961" rx="8" ry="3.5"/><text class="t" x="217" y="960.8"><tspan class="b">broadcast.12</tspan><tspan x="217" dy="1.5">f32[784,128]</tspan></text></g>
<g id="k19"><ellipse class="g" cx="121" cy="976" rx="15" ry="4.5"/><text class="t" x="121" y="975"><tspan class="b">constant.19</tspan><tspan x="121" dy="1.5">f32[128]</tspan><tspan x="121" dy="1.5">{1, 1, 1, ...}</tspan></text></g>
<g id="k20"><ellipse class="e" cx="147" cy="976" rx="11" ry="4"/><text class="t" x="147" y="975"><tspan class="b">multiply.20</tspan><tspan x="147" dy="1.5">f32[128]</tspan><tspan x="147" dy="1.5">{0}</tspan></text></g>
<g id="k21"><ellipse class="g" cx="173" cy="976" rx="12" ry="4.5"/><text class="t" x="173" y="975"><tspan class="b">constant.20</tspan><tspan x="173" dy="1.5">f32[128]</tspan><tspan x="173" dy="1.5">{0, 0, 0, ...}</tspan></text></g>
<g id="k22"><ellipse class="e" cx="196" cy="976" rx="8" ry="3.5"/><text class="t" x="196" y="975.8"><tspan class="b">multiply.21</tspan><tspan x="196" dy="1.5">f32[128]</tspan></text></g>
<g id="k23"><ellipse class="e" cx="217" cy="976" rx="8" ry="3.5"/><text class="t" x="217" y="975.8"><tspan class="b">subtract.6</tspan><tspan x="217" dy="1.5">f32[784,128]</tspan></text></g>
<g id="k24"><ellipse class="e" cx="179" cy="992" rx="8" ry="3"/><text class="t" x="179" y="991.8"><tspan class="b">add.22</tspan><tspan x="179" dy="1.5">f32[128]</tspan></text></g>
<g id="k25"><ellipse class="e" cx="217" cy="992" rx="8" ry="3"/><text class="t" x="217" y="991.8"><tspan class="b">multiply.22</tspan><tspan x="217" dy="1.5">f32[784,128]</tspan></text></g>
<g id="k26"><ellipse class="e" cx="151" cy="1006" rx="9" ry="3"/><text class="t" x="151" y="1005.8"><tspan class="b">broadcast.13</tspan><tspan x="151" dy="1.5">f32[784,128]</tspan></text></g>
<g id="k27"><ellipse class="e" cx="217" cy="1006" rx="9" ry="3"/><text class="t" x="217" y="1005.8"><tspan class="b">add.23</tspan><tspan x="217" dy="1.5">f32[784,128]</tspan></text></g>
<g id="k28"><ellipse class="g" cx="108" cy="1017" rx="15" ry="4.5"/><text class="t" x="108" y="1016"><tspan class="b">constant.21</tspan><tspan x="108" dy="1.5">f32[]</tspan><tspan x="108" dy="1.5">0</tspan></text></g>
<g id="k29"><ellipse class="g" cx="134" cy="1017" rx="11" ry="4.5"/><text class="t" x="134" y="1016"><tspan class="b">constant.22</tspan><tspan x="134" dy="1.5">f32[]</tspan><tspan x="134" dy="1.5">6</tspan></text></g>
<g id="k30"><ellipse class="e" cx="163" cy="1017" rx="8" ry="4"/><text class="t" x="163" y="1016"><tspan class="b">clamp.1</tspan><tspan x="163" dy="1.5">f32[784,128]</tspan><tspan x="163" dy="1.5">{1,0}</tspan></text></g>
<g id="k31"><ellipse class="g" cx="188" cy="1017" rx="13" ry="4.5"/><text class="t" x="188" y="1016"><tspan class="b">constant.23</tspan><tspan x="188" dy="1.5">f32[]</tspan><tspan x="188" dy="1.5">0.5</tspan></text></g>
<g id="k32"><ellipse class="e" cx="217" cy="1017" rx="10" ry="4.5"/><text class="t" x="217" y="1016"><tspan class="b">bitcast.10</tspan><tspan x="217" dy="1.5">f32[1,28,28,128]</tspan><tspan x="217" dy="1.5">{3,2,1,0}</tspan></text></g>
<g id="k33"><ellipse class="g" cx="241" cy="1017" rx="13" ry="4.5"/><text class="t" x="241" y="1016"><tspan class="b">constant.24</tspan><tspan x="241" dy="1.5">s32[]</tspan><tspan x="241" dy="1.5">1</tspan></text></g>
<g id="k34"><rect class="r" x="260" y="987" width="25" height="11"/><text class="t" x="272.5" y="989.3"><tspan class="b">reduce.12</tspan><tspan x="272.5" dy="1.55">f32[128]</tspan><tspan x="272.5" dy="1.55">dimensions={0}</tspan><tspan x="272.5" dy="1.55">to_apply=add_F32</tspan></text></g>
<g id="k35"><rect class="r" x="122" y="1030" width="25" height="11"/><text class="t" x="134.5" y="1032.3"><tspan class="b">fusion.32</tspan><tspan x="134.5" dy="1.55">kind=kLoop</tspan><tspan x="134.5" dy="1.55">f32[784,128]</tspan><tspan x="134.5" dy="1.55">{1,0}</tspan></text></g>
<g id="k36"><rect class="r" x="122" y="1044" width="25" height="12"/><text class="t" x="134.5" y="1046.3"><tspan class="b">select.4</tspan><tspan x="134.5" dy="1.55">f32[784,128]</tspan><tspan x="134.5" dy="1.55">kind=kLoop</tspan><tspan x="134.5" dy="1.55">{1,0}</tspan></text></g>
<g id="k37"><rect class="r" x="203" y="1029" width="26" height="13"/><text class="t" x="216" y="1031.3"><tspan class="b">fusion.33</tspan><tspan x="216" dy="1.55">kind=kLoop</tspan><tspan x="216" dy="1.55">f32[1,28,28,128]</tspan><tspan x="216" dy="1.55">calls=fused_comp.33</tspan></text></g>
<g id="k38"><rect class="r" x="204" y="1044" width="25" height="12"/><text class="t" x="216.5" y="1046.3"><tspan class="b">copy.18</tspan><tspan x="216.5" dy="1.55">f32[1,28,28,128]</tspan><tspan x="216.5" dy="1.55">kind=kLoop</tspan><tspan x="216.5" dy="1.55">{3,2,1,0}</tspan></text></g>
<g id="k39"><rect class="r" x="232" y="1044" width="22" height="12"/><text class="t" x="243" y="1046.3"><tspan class="b">add.25</tspan><tspan x="243" dy="1.55">s32[]</tspan><tspan x="243" dy="1.55">kind=kLoop</tspan><tspan x="243" dy="1.55">{}</tspan></text></g>
<g id="k40"><ellipse class="e" cx="212" cy="1063" rx="10" ry="3.5"/><text class="t" x="212" y="1062.8"><tspan class="b">tuple.11</tspan><tspan x="212" dy="1.5">(s32[], f32[...])</tspan></text></g>
<g id="k41"><ellipse class="e" cx="166" cy="1080" rx="10" ry="3.5"/><text class="t" x="166" y="1079.8"><tspan class="b">gte.14</tspan><tspan x="166" dy="1.5">f32[1,28,28,128]</tspan></text></g>
<g id="k42"><ellipse class="e" cx="198" cy="1080" rx="9" ry="3.5"/><text class="t" x="198" y="1079.8"><tspan class="b">gte.15</tspan><tspan x="198" dy="1.5">s32[]</tspan></text></g>
<g id="k43"><ellipse class="e" cx="227" cy="1080" rx="9" ry="3.5"/><text class="t" x="227" y="1079.8"><tspan class="b">gte.16</tspan><tspan x="227" dy="1.5">f32[128]</tspan></text></g>
<g id="k44"><ellipse class="e" cx="161" cy="1096" rx="9" ry="3"/><text class="t" x="161" y="1095.8"><tspan class="b">copy.19</tspan><tspan x="161" dy="1.5">f32[1,28,28,128]</tspan></text></g>
<g id="k45"><ellipse class="e" cx="182" cy="1096" rx="9" ry="3"/><text class="t" x="182" y="1095.8"><tspan class="b">convert.20</tspan><tspan x="182" dy="1.5">f32[]</tspan></text></g>
<g id="k46"><ellipse class="e" cx="230" cy="1096" rx="9" ry="3"/><text class="t" x="230" y="1095.8"><tspan class="b">copy.20</tspan><tspan x="230" dy="1.5">f32[128]</tspan></text></g>
<g id="k47"><rect class="w" x="97" y="1106" width="26" height="6"/><text class="t" x="110" y="1108.5"><tspan class="b">get-tuple-element.17</tspan><tspan x="110" dy="1.5">f32[1,28,28,512] index=2</tspan></text></g>
<g id="k48"><ellipse class="e" cx="140" cy="1108" rx="14" ry="3"/><text class="t" x="140" y="1107.8"><tspan class="b">get-tuple-element.18</tspan><tspan x="140" dy="1.5">f32[512] index=3</tspan></text></g>
<g id="k49"><rect class="w" x="161" y="1106" width="27" height="6"/><text class="t" x="174.5" y="1108.5"><tspan class="b">get-tuple-element.19</tspan><tspan x="174.5" dy="1.5">f32[1,28,28,128] index=0</tspan></text></g>
<g id="k50"><ellipse class="e" cx="205" cy="1108" rx="14" ry="3"/><text class="t" x="205" y="1107.8"><tspan class="b">get-tuple-element.20</tspan><tspan x="205" dy="1.5">f32[128] index=1</tspan></text></g>
<g id="k51"><rect class="w" x="225" y="1106" width="25" height="6"/><text class="t" x="237.5" y="1108.5"><tspan class="b">get-tuple-element.21</tspan><tspan x="237.5" dy="1.5">f32[128] index=4</tspan></text></g>
<g id="k52"><ellipse class="e" cx="269" cy="1108" rx="15" ry="3"/><text class="t" x="269" y="1107.8"><tspan class="b">get-tuple-element.22</tspan><tspan x="269" dy="1.5">s32[] index=5</tspan></text></g>
<g id="k53"><rect class="r" x="97" y="1118" width="33" height="12"/><text class="t" x="113.5" y="1120.3"><tspan class="b">convolution.12</tspan><tspan x="113.5" dy="1.55">f32[1,28,28,512]</tspan><tspan x="113.5" dy="1.55">window={size=1x1} dim_labels=b01f_01io-&gt;b01f</tspan><tspan x="113.5" dy="1.55">metadata={op_name=res3b_branch2c}</tspan></text></g>
<g id="k54"><rect class="r" x="157" y="1118" width="33" height="12"/><text class="t" x="173.5" y="1120.3"><tspan class="b">convolution.13</tspan><tspan x="173.5" dy="1.55">f32[1,28,28,128]</tspan><tspan x="173.5" dy="1.55">window={size=3x3 pad=1_1x1_1} dim_labels=b01f</tspan><tspan x="173.5" dy="1.55">metadata={op_name=res3c_branch2b}</tspan></text></g>
<g id="k55"><rect class="r" x="252" y="1118" width="33" height="12"/><text class="t" x="268.5" y="1120.3"><tspan class="b">convolution.14</tspan><tspan x="268.5" dy="1.55">f32[1,28,28,128]</tspan><tspan x="268.5" dy="1.55">window={size=1x1} dim_labels=b01f_01io-&gt;b01f</tspan><tspan x="268.5" dy="1.55">metadata={op_name=res3c_branch2a}</tspan></text></g>
<g id="l0"><ellipse class="e" cx="37" cy="1081" rx="11" ry="4"/><text class="t" x="37" y="1080"><tspan class="b">while.2</tspan><tspan x="37" dy="1.5">(s32[], f32[1,28,28,512])</tspan><tspan x="37" dy="1.5">condition=cond.2</tspan></text></g>
<g id="l1"><rect class="w" x="39" y="1092" width="14" height="7"/><text class="t" x="46" y="1094.8"><tspan class="b">param.18</tspan><tspan x="46" dy="1.5">f32[1,28,28,512]</tspan></text></g>
<g id="l2"><rect class="r" x="43" y="1103" width="21" height="11"/><text class="t" x="53.5" y="1105.3"><tspan class="b">fusion.34</tspan><tspan x="53.5" dy="1.55">kind=kLoop</tspan><tspan x="53.5" dy="1.55">f32[1,28,28,512]</tspan><tspan x="53.5" dy="1.55">{3,2,1,0}</tspan></text></g>
<g id="l3"><rect class="r" x="35" y="1118" width="51" height="12"/><text class="t" x="60.5" y="1120.3"><tspan class="b">maximum.7</tspan><tspan x="60.5" dy="1.55">f32[1,28,28,512]</tspan><tspan x="60.5" dy="1.55">metadata={op_type=Relu op_name=model/res3b_relu/Relu}</tspan><tspan x="60.5" dy="1.55">source_line=334</tspan></text></g>
<g id="red6"><ellipse class="red" cx="315" cy="1063" rx="12" ry="4.5"/><text class="t" x="315" y="1062"><tspan class="b">Arg_5.6</tspan><tspan x="315" dy="1.5">f32[1,1,512,256]</tspan><tspan x="315" dy="1.5">parameter(5)</tspan></text></g>
<g id="m1"><rect class="r" x="292" y="1075" width="40" height="10"/><text class="t" x="312" y="1077.2"><tspan class="b">convolution.15</tspan><tspan x="312" dy="1.5">f32[1,14,14,256]</tspan><tspan x="312" dy="1.5">window={size=1x1 stride=2x2} dim_labels=b01f</tspan><tspan x="312" dy="1.5">metadata={op_name=res4a}</tspan></text></g>
<g id="m2"><rect class="w" x="307" y="1092" width="16" height="7"/><text class="t" x="315" y="1094.8"><tspan class="b">param.19</tspan><tspan x="315" dy="1.5">f32[1,1,512,256]</tspan></text></g>
<g id="m3"><rect class="r" x="304" y="1103" width="23" height="11"/><text class="t" x="315.5" y="1105.3"><tspan class="b">convert.22</tspan><tspan x="315.5" dy="1.55">bf16[1,1,512,256]</tspan><tspan x="315.5" dy="1.55">kind=kLoop</tspan><tspan x="315.5" dy="1.55">{3,2,1,0}</tspan></text></g>
<g id="m4"><rect class="r" x="293" y="1118" width="44" height="11"/><text class="t" x="315" y="1120.3"><tspan class="b">copy.21</tspan><tspan x="315" dy="1.55">bf16[1,1,512,256]</tspan><tspan x="315" dy="1.55">metadata={op_type=Cast op_name=res4a_branch2a/Cast}</tspan><tspan x="315" dy="1.55">source_line=341</tspan></text></g>
<g id="n1"><rect class="r" x="352" y="1075" width="35" height="10"/><text class="t" x="369.5" y="1077.2"><tspan class="b">convolution.16</tspan><tspan x="369.5" dy="1.5">f32[1,14,14,1024]</tspan><tspan x="369.5" dy="1.5">window={size=1x1 stride=2x2}</tspan><tspan x="369.5" dy="1.5">metadata={op_name=res4a_b1}</tspan></text></g>
<g id="n2"><rect class="w" x="360" y="1092" width="18" height="7"/><text class="t" x="369" y="1094.8"><tspan class="b">param.20</tspan><tspan x="369" dy="1.5">f32[1,1,512,1024]</tspan></text></g>
<g id="n3"><rect class="r" x="361" y="1103" width="22" height="11"/><text class="t" x="372" y="1105.3"><tspan class="b">convert.23</tspan><tspan x="372" dy="1.55">bf16[1,1,512,1024]</tspan><tspan x="372" dy="1.55">kind=kLoop</tspan><tspan x="372" dy="1.55">{3,2,1,0}</tspan></text></g>
<g id="n4"><rect class="r" x="350" y="1118" width="47" height="11"/><text class="t" x="373.5" y="1120.3"><tspan class="b">copy.22</tspan><tspan x="373.5" dy="1.55">bf16[1,1,512,1024]</tspan><tspan x="373.5" dy="1.55">metadata={op_type=Cast op_name=res4a_branch1/Cast}</tspan><tspan x="373.5" dy="1.55">source_line=345</tspan></text></g>

<g id="o1"><rect class="w" x="259" y="1145" width="18" height="7"/><text class="t" x="268" y="1147.8"><tspan class="b">param.21</tspan><tspan x="268" dy="1.5">s32[]</tspan></text></g>
<g id="o2"><rect class="r" x="252" y="1156" width="23" height="12"/><text class="t" x="263.5" y="1158.3"><tspan class="b">fusion.35</tspan><tspan x="263.5" dy="1.55">kind=kLoop</tspan><tspan x="263.5" dy="1.55">f32[1,14,14,256]</tspan><tspan x="263.5" dy="1.55">{3,2,1,0}</tspan></text></g>
<g id="o3"><rect class="r" x="244" y="1171" width="35" height="11"/><text class="t" x="261.5" y="1173.3"><tspan class="b">add.27</tspan><tspan x="261.5" dy="1.55">f32[1,14,14,256]</tspan><tspan x="261.5" dy="1.55">metadata={op_type=Add op_name=bn4a/add}</tspan><tspan x="261.5" dy="1.55">source_line=352</tspan></text></g>
<g id="o4"><ellipse class="e" cx="262" cy="1190" rx="12" ry="4"/><text class="t" x="262" y="1189"><tspan class="b">tuple.13</tspan><tspan x="262" dy="1.5">(s32[], f32[1,14,14,256])</tspan><tspan x="262" dy="1.5">{0}</tspan></text></g>
<g id="o5"><ellipse class="e" cx="257" cy="1205" rx="10" ry="3"/><text class="t" x="257" y="1204.8"><tspan class="b">gte.23</tspan><tspan x="257" dy="1.5">s32[]</tspan></text></g>
<g id="o6"><ellipse class="e" cx="252" cy="1216" rx="10" ry="3"/><text class="t" x="252" y="1215.8"><tspan class="b">add.28</tspan><tspan x="252" dy="1.5">s32[]</tspan></text></g>
<g id="o7"><ellipse class="e" cx="220" cy="1226" rx="10" ry="3"/><text class="t" x="220" y="1225.8"><tspan class="b">compare.6</tspan><tspan x="220" dy="1.5">pred[] LT</tspan></text></g>
<g id="o8"><ellipse class="e" cx="252" cy="1226" rx="10" ry="3"/><text class="t" x="252" y="1225.8"><tspan class="b">gte.24</tspan><tspan x="252" dy="1.5">f32[1,14,14,256]</tspan></text></g>
<g id="o9"><ellipse class="e" cx="215" cy="1242" rx="9" ry="3"/><text class="t" x="215" y="1241.8"><tspan class="b">select.5</tspan><tspan x="215" dy="1.5">s32[]</tspan></text></g>
<g id="o10"><ellipse class="e" cx="215" cy="1257" rx="9" ry="3"/><text class="t" x="215" y="1256.8"><tspan class="b">convert.24</tspan><tspan x="215" dy="1.5">f32[]</tspan></text></g>
<g id="o11"><ellipse class="g" cx="212" cy="1271" rx="8" ry="4.5"/><text class="t" x="212" y="1270"><tspan class="b">constant.26</tspan><tspan x="212" dy="1.5">f32[]</tspan><tspan x="212" dy="1.5">1e-05</tspan></text></g>
<g id="o12"><ellipse class="e" cx="234" cy="1271" rx="9" ry="3"/><text class="t" x="234" y="1270.8"><tspan class="b">broadcast.15</tspan><tspan x="234" dy="1.5">f32[256]</tspan></text></g>
<g id="o13"><ellipse class="e" cx="234" cy="1284" rx="9" ry="3.5"/><text class="t" x="234" y="1283.8"><tspan class="b">add.29</tspan><tspan x="234" dy="1.5">f32[256]</tspan></text></g>
<g id="o14"><ellipse class="e" cx="256" cy="1284" rx="9" ry="3.5"/><text class="t" x="256" y="1283.8"><tspan class="b">rsqrt.4</tspan><tspan x="256" dy="1.5">f32[256]</tspan></text></g>
<g id="o15"><ellipse class="e" cx="236" cy="1296" rx="10" ry="3.5"/><text class="t" x="236" y="1295.8"><tspan class="b">multiply.24</tspan><tspan x="236" dy="1.5">f32[256]</tspan></text></g>
<g id="o16"><ellipse class="e" cx="217" cy="1307" rx="9" ry="3"/><text class="t" x="217" y="1306.8"><tspan class="b">broadcast.16</tspan><tspan x="217" dy="1.5">f32[1,14,14,256]</tspan></text></g>
<g id="o17"><ellipse class="e" cx="244" cy="1307" rx="10" ry="3"/><text class="t" x="244" y="1306.8"><tspan class="b">negate.3</tspan><tspan x="244" dy="1.5">f32[256]</tspan></text></g>
<g id="o18"><rect class="r" x="241" y="1236" width="21" height="12"/><text class="t" x="251.5" y="1238.3"><tspan class="b">reduce.14</tspan><tspan x="251.5" dy="1.55">f32[256]</tspan><tspan x="251.5" dy="1.55">dimensions={0,1,2}</tspan><tspan x="251.5" dy="1.55">to_apply=add_F32</tspan></text></g>
<g id="o19"><rect class="r" x="230" y="1251" width="43" height="12"/><text class="t" x="251.5" y="1253.3"><tspan class="b">divide.8</tspan><tspan x="251.5" dy="1.55">f32[256]</tspan><tspan x="251.5" dy="1.55">metadata={op_type=Mean op_name=bn4a/moments/mean}</tspan><tspan x="251.5" dy="1.55">source_line=360</tspan></text></g>
<g id="o20"><rect class="r" x="204" y="1317" width="24" height="10"/><text class="t" x="216" y="1319.2"><tspan class="b">multiply.25</tspan><tspan x="216" dy="1.5">f32[1,14,14,256]</tspan><tspan x="216" dy="1.5">kind=kLoop</tspan><tspan x="216" dy="1.5">{3,2,1,0}</tspan></text></g>
<g id="o21"><rect class="r" x="235" y="1316" width="22" height="11"/><text class="t" x="246" y="1318.3"><tspan class="b">fusion.37</tspan><tspan x="246" dy="1.55">kind=kLoop</tspan><tspan x="246" dy="1.55">f32[1,14,14,256]</tspan><tspan x="246" dy="1.55">{3,2,1,0}</tspan></text></g>
<g id="o22"><rect class="r" x="232" y="1331" width="34" height="12"/><text class="t" x="249" y="1333.3"><tspan class="b">maximum.8</tspan><tspan x="249" dy="1.55">f32[1,14,14,256]</tspan><tspan x="249" dy="1.55">metadata={op_type=Relu op_name=relu_4a}</tspan><tspan x="249" dy="1.55">source_line=366</tspan></text></g>
<g id="o23"><rect class="w" x="261" y="1353" width="16" height="6"/><text class="t" x="269" y="1355.5"><tspan class="b">param.22</tspan><tspan x="269" dy="1.5">f32[1,14,14,256]</tspan></text></g>
<g id="o24"><rect class="w" x="252" y="1367" width="16" height="6"/><text class="t" x="260" y="1369.5"><tspan class="b">param.23</tspan><tspan x="260" dy="1.5">f32[1,1,256,256]</tspan></text></g>
<g id="o25"><rect class="r" x="246" y="1377" width="22" height="11"/><text class="t" x="257" y="1379.3"><tspan class="b">fusion.38</tspan><tspan x="257" dy="1.55">kind=kLoop</tspan><tspan x="257" dy="1.55">bf16[1,14,14,256]</tspan><tspan x="257" dy="1.55">{3,2,1,0}</tspan></text></g>
<g id="o26"><rect class="r" x="232" y="1392" width="43" height="11"/><text class="t" x="253.5" y="1394.3"><tspan class="b">convolution.17</tspan><tspan x="253.5" dy="1.55">f32[1,14,14,256]</tspan><tspan x="253.5" dy="1.55">window={size=1x1} dim_labels=b01f_01io-&gt;b01f</tspan><tspan x="253.5" dy="1.55">metadata={op_name=res4b_branch2a}</tspan></text></g>
<g id="o27"><rect class="w" x="246" y="1411" width="16" height="7"/><text class="t" x="254" y="1413.8"><tspan class="b">param.24</tspan><tspan x="254" dy="1.5">f32[3,3,256,256]</tspan></text></g>
<g id="o28"><rect class="r" x="243" y="1422" width="22" height="11"/><text class="t" x="254" y="1424.3"><tspan class="b">fusion.39</tspan><tspan x="254" dy="1.55">kind=kLoop</tspan><tspan x="254" dy="1.55">bf16[1,14,14,256]</tspan><tspan x="254" dy="1.55">{3,2,1,0}</tspan></text></g>
<g id="o29"><rect class="r" x="232" y="1437" width="43" height="11"/><text class="t" x="253.5" y="1439.3"><tspan class="b">convolution.18</tspan><tspan x="253.5" dy="1.55">f32[1,14,14,256]</tspan><tspan x="253.5" dy="1.55">window={size=3x3 pad=1_1x1_1} dim_labels=b01f_01io-&gt;b01f</tspan><tspan x="253.5" dy="1.55">metadata={op_name=res4b_branch2b}</tspan></text></g>
<g id="o30"><ellipse class="e" cx="233" cy="1456" rx="10" ry="3"/><text class="t" x="233" y="1455.8"><tspan class="b">gte.25</tspan><tspan x="233" dy="1.5">s32[]</tspan></text></g>
<g id="o31"><ellipse class="e" cx="257" cy="1456" rx="10" ry="3"/><text class="t" x="257" y="1455.8"><tspan class="b">gte.26</tspan><tspan x="257" dy="1.5">f32[1,14,14,256]</tspan></text></g>
<g id="o32"><rect class="w" x="247" y="1466" width="17" height="7"/><text class="t" x="255.5" y="1468.8"><tspan class="b">param.25</tspan><tspan x="255.5" dy="1.5">f32[1,14,14,256]</tspan></text></g>
<g id="o33"><rect class="r" x="244" y="1476" width="23" height="11"/><text class="t" x="255.5" y="1478.3"><tspan class="b">fusion.40</tspan><tspan x="255.5" dy="1.55">kind=kLoop</tspan><tspan x="255.5" dy="1.55">f32[1,14,14,1024]</tspan><tspan x="255.5" dy="1.55">{3,2,1,0}</tspan></text></g>
<g id="o34"><rect class="r" x="238" y="1491" width="35" height="10"/><text class="t" x="255.5" y="1493.2"><tspan class="b">add.31</tspan><tspan x="255.5" dy="1.5">f32[1,14,14,1024]</tspan><tspan x="255.5" dy="1.5">metadata={op_type=AddV2 op_name=add_7}</tspan><tspan x="255.5" dy="1.5">source_line=380</tspan></text></g>
<g id="o35"><ellipse class="e" cx="256" cy="1512" rx="12" ry="4"/><text class="t" x="256" y="1511"><tspan class="b">while.4</tspan><tspan x="256" dy="1.5">(s32[], f32[1,14,14,1024])</tspan><tspan x="256" dy="1.5">condition=cond.4</tspan></text></g>
<g id="x1"><ellipse class="e" cx="168" cy="1525" rx="12" ry="4"/><text class="t" x="168" y="1524"><tspan class="b">get-tuple-element.27</tspan><tspan x="168" dy="1.5">f32[1,14,14,1024]</tspan><tspan x="168" dy="1.5">index=1</tspan></text></g>
<g id="green1"><ellipse class="grn" cx="187" cy="1734" rx="9.5" ry="4.5"/><text class="t" x="187" y="1733"><tspan class="b">tuple.14</tspan><tspan x="187" dy="1.5">(f32[...], f32[...])</tspan><tspan x="187" dy="1.5">ROOT</tspan></text></g>

<g id="p1"><rect class="w" x="82" y="1542" width="17" height="7"/><text class="t" x="90.5" y="1544.8"><tspan class="b">param.26</tspan><tspan x="90.5" dy="1.5">s32[]</tspan></text></g>
<g id="p2"><rect class="r" x="75" y="1553" width="23" height="11"/><text class="t" x="86.5" y="1555.3"><tspan class="b">fusion.41</tspan><tspan x="86.5" dy="1.55">kind=kLoop</tspan><tspan x="86.5" dy="1.55">f32[1,7,7,512]</tspan><tspan x="86.5" dy="1.55">{3,2,1,0}</tspan></text></g>
<g id="p3"><rect class="r" x="68" y="1568" width="34" height="11"/><text class="t" x="85" y="1570.3"><tspan class="b">add.33</tspan><tspan x="85" dy="1.55">f32[1,7,7,512]</tspan><tspan x="85" dy="1.55">metadata={op_type=Add op_name=bn5a/add}</tspan><tspan x="85" dy="1.55">source_line=401</tspan></text></g>
<g id="p4"><ellipse class="e" cx="72" cy="1587" rx="12" ry="4"/><text class="t" x="72" y="1586"><tspan class="b">tuple.16</tspan><tspan x="72" dy="1.5">(s32[], f32[1,7,7,512])</tspan><tspan x="72" dy="1.5">{0}</tspan></text></g>
<g id="p5"><ellipse class="e" cx="86" cy="1602" rx="11" ry="3"/><text class="t" x="86" y="1601.8"><tspan class="b">gte.28</tspan><tspan x="86" dy="1.5">s32[]</tspan></text></g>
<g id="p6"><ellipse class="e" cx="92" cy="1612" rx="12" ry="3"/><text class="t" x="92" y="1611.8"><tspan class="b">add.34</tspan><tspan x="92" dy="1.5">s32[]</tspan></text></g>
<g id="p7"><ellipse class="e" cx="92" cy="1623" rx="11" ry="3"/><text class="t" x="92" y="1622.8"><tspan class="b">gte.29</tspan><tspan x="92" dy="1.5">f32[1,7,7,512]</tspan></text></g>
<g id="p8"><ellipse class="e" cx="123" cy="1623" rx="11" ry="3"/><text class="t" x="123" y="1622.8"><tspan class="b">compare.8</tspan><tspan x="123" dy="1.5">pred[] LT</tspan></text></g>
<g id="p9"><ellipse class="e" cx="128" cy="1639" rx="10" ry="3"/><text class="t" x="128" y="1638.8"><tspan class="b">select.7</tspan><tspan x="128" dy="1.5">s32[]</tspan></text></g>
<g id="p10"><ellipse class="e" cx="128" cy="1654" rx="10" ry="3"/><text class="t" x="128" y="1653.8"><tspan class="b">convert.27</tspan><tspan x="128" dy="1.5">f32[]</tspan></text></g>
<g id="p11"><ellipse class="g" cx="108" cy="1667" rx="8" ry="4.5"/><text class="t" x="108" y="1666"><tspan class="b">constant.29</tspan><tspan x="108" dy="1.5">f32[]</tspan><tspan x="108" dy="1.5">1e-05</tspan></text></g>
<g id="p12"><ellipse class="e" cx="128" cy="1667" rx="10" ry="3.5"/><text class="t" x="128" y="1666.8"><tspan class="b">broadcast.18</tspan><tspan x="128" dy="1.5">f32[512]</tspan></text></g>
<g id="p13"><ellipse class="e" cx="105" cy="1681" rx="10" ry="4"/><text class="t" x="105" y="1680"><tspan class="b">rsqrt.5</tspan><tspan x="105" dy="1.5">f32[512]</tspan><tspan x="105" dy="1.5">{0}</tspan></text></g>
<g id="p14"><ellipse class="e" cx="127" cy="1681" rx="11" ry="4"/><text class="t" x="127" y="1680"><tspan class="b">add.35</tspan><tspan x="127" dy="1.5">f32[512]</tspan><tspan x="127" dy="1.5">{0}</tspan></text></g>
<g id="p15"><ellipse class="e" cx="112" cy="1692" rx="11" ry="3.5"/><text class="t" x="112" y="1691.8"><tspan class="b">multiply.27</tspan><tspan x="112" dy="1.5">f32[512]</tspan></text></g>
<g id="p16"><ellipse class="e" cx="96" cy="1702" rx="11" ry="3"/><text class="t" x="96" y="1701.8"><tspan class="b">broadcast.19</tspan><tspan x="96" dy="1.5">f32[1,7,7,512]</tspan></text></g>
<g id="p17"><ellipse class="e" cx="125" cy="1702" rx="10" ry="3"/><text class="t" x="125" y="1701.8"><tspan class="b">negate.4</tspan><tspan x="125" dy="1.5">f32[512]</tspan></text></g>
<g id="p18"><rect class="r" x="80" y="1633" width="24" height="11"/><text class="t" x="92" y="1635.3"><tspan class="b">reduce.16</tspan><tspan x="92" dy="1.55">f32[512]</tspan><tspan x="92" dy="1.55">dimensions={0,1,2}</tspan><tspan x="92" dy="1.55">to_apply=add_F32</tspan></text></g>
<g id="p19"><rect class="r" x="70" y="1648" width="44" height="12"/><text class="t" x="92" y="1650.3"><tspan class="b">divide.10</tspan><tspan x="92" dy="1.55">f32[512]</tspan><tspan x="92" dy="1.55">metadata={op_type=Mean op_name=bn5a/moments/mean}</tspan><tspan x="92" dy="1.55">source_line=410</tspan></text></g>
<g id="p20"><rect class="r" x="83" y="1713" width="22" height="11"/><text class="t" x="94" y="1715.3"><tspan class="b">fusion.43</tspan><tspan x="94" dy="1.55">kind=kLoop</tspan><tspan x="94" dy="1.55">f32[1,7,7,512]</tspan><tspan x="94" dy="1.55">{3,2,1,0}</tspan></text></g>
<g id="p21"><rect class="r" x="75" y="1728" width="36" height="11"/><text class="t" x="93" y="1730.3"><tspan class="b">maximum.10</tspan><tspan x="93" dy="1.55">f32[1,7,7,512]</tspan><tspan x="93" dy="1.55">metadata={op_type=Relu op_name=relu_5a}</tspan><tspan x="93" dy="1.55">source_line=416</tspan></text></g>
<g id="p22"><rect class="r" x="114" y="1713" width="24" height="11"/><text class="t" x="126" y="1715.3"><tspan class="b">multiply.28</tspan><tspan x="126" dy="1.55">f32[512]</tspan><tspan x="126" dy="1.55">kind=kLoop</tspan><tspan x="126" dy="1.55">{0}</tspan></text></g>
<g id="p23"><rect class="w" x="82" y="1749" width="17" height="7"/><text class="t" x="90.5" y="1751.8"><tspan class="b">param.27</tspan><tspan x="90.5" dy="1.5">f32[1,7,7,512]</tspan></text></g>
<g id="p24"><rect class="w" x="81" y="1763" width="18" height="7"/><text class="t" x="90" y="1765.8"><tspan class="b">param.28</tspan><tspan x="90" dy="1.5">f32[1,1,512,512]</tspan></text></g>
<g id="p25"><rect class="r" x="78" y="1774" width="24" height="11"/><text class="t" x="90" y="1776.3"><tspan class="b">fusion.44</tspan><tspan x="90" dy="1.55">kind=kLoop</tspan><tspan x="90" dy="1.55">bf16[1,7,7,512]</tspan><tspan x="90" dy="1.55">{3,2,1,0}</tspan></text></g>
<g id="p26"><rect class="r" x="68" y="1788" width="45" height="12"/><text class="t" x="90.5" y="1790.3"><tspan class="b">convolution.20</tspan><tspan x="90.5" dy="1.55">f32[1,7,7,512]</tspan><tspan x="90.5" dy="1.55">window={size=1x1} dim_labels=b01f_01io-&gt;b01f</tspan><tspan x="90.5" dy="1.55">metadata={op_name=res5b_branch2a}</tspan></text></g>
<g id="p27"><rect class="w" x="81" y="1808" width="18" height="7"/><text class="t" x="90" y="1810.8"><tspan class="b">param.29</tspan><tspan x="90" dy="1.5">f32[3,3,512,512]</tspan></text></g>
<g id="p28"><rect class="r" x="79" y="1819" width="23" height="11"/><text class="t" x="90.5" y="1821.3"><tspan class="b">fusion.45</tspan><tspan x="90.5" dy="1.55">kind=kLoop</tspan><tspan x="90.5" dy="1.55">bf16[1,7,7,512]</tspan><tspan x="90.5" dy="1.55">{3,2,1,0}</tspan></text></g>
<g id="p29"><rect class="r" x="68" y="1834" width="44" height="11"/><text class="t" x="90" y="1836.3"><tspan class="b">convolution.21</tspan><tspan x="90" dy="1.55">f32[1,7,7,512]</tspan><tspan x="90" dy="1.55">window={size=3x3 pad=1_1x1_1} dim_labels=b01f_01io-&gt;b01f</tspan><tspan x="90" dy="1.55">metadata={op_name=res5b_branch2b}</tspan></text></g>
<g id="p30"><ellipse class="e" cx="73" cy="1853" rx="11" ry="3"/><text class="t" x="73" y="1852.8"><tspan class="b">gte.30</tspan><tspan x="73" dy="1.5">s32[]</tspan></text></g>
<g id="p31"><ellipse class="e" cx="98" cy="1853" rx="11" ry="3"/><text class="t" x="98" y="1852.8"><tspan class="b">gte.31</tspan><tspan x="98" dy="1.5">f32[1,7,7,512]</tspan></text></g>
<g id="p32"><rect class="w" x="89" y="1863" width="19" height="6"/><text class="t" x="98.5" y="1865.5"><tspan class="b">param.30</tspan><tspan x="98.5" dy="1.5">f32[1,7,7,512]</tspan></text></g>
<g id="p33"><rect class="r" x="89" y="1873" width="24" height="12"/><text class="t" x="101" y="1875.3"><tspan class="b">fusion.46</tspan><tspan x="101" dy="1.55">kind=kLoop</tspan><tspan x="101" dy="1.55">f32[1,7,7,2048]</tspan><tspan x="101" dy="1.55">{3,2,1,0}</tspan></text></g>
<g id="p34"><rect class="r" x="87" y="1888" width="36" height="12"/><text class="t" x="105" y="1890.3"><tspan class="b">add.37</tspan><tspan x="105" dy="1.55">f32[1,7,7,2048]</tspan><tspan x="105" dy="1.55">metadata={op_type=AddV2 op_name=add_10}</tspan><tspan x="105" dy="1.55">source_line=430</tspan></text></g>
<g id="y1"><ellipse class="e" cx="120" cy="1909" rx="12" ry="4"/><text class="t" x="120" y="1908"><tspan class="b">while.5</tspan><tspan x="120" dy="1.5">(s32[], f32[1,7,7,2048])</tspan><tspan x="120" dy="1.5">condition=cond.5</tspan></text></g>
<g id="y2"><ellipse class="e" cx="120" cy="1923" rx="13" ry="4"/><text class="t" x="120" y="1922"><tspan class="b">get-tuple-element.32</tspan><tspan x="120" dy="1.5">f32[1,7,7,2048]</tspan><tspan x="120" dy="1.5">index=1</tspan></text></g>

<g id="q1"><rect class="w" x="113" y="1946" width="16" height="7"/><text class="t" x="121" y="1948.8"><tspan class="b">param.31</tspan><tspan x="121" dy="1.5">f32[1,7,7,2048]</tspan></text></g>
<g id="q2"><rect class="r" x="109" y="1956" width="23" height="11"/><text class="t" x="120.5" y="1958.3"><tspan class="b">fusion.47</tspan><tspan x="120.5" dy="1.55">kind=kLoop</tspan><tspan x="120.5" dy="1.55">f32[1,7,7,2048]</tspan><tspan x="120.5" dy="1.55">{3,2,1,0}</tspan></text></g>
<g id="q3"><rect class="r" x="103" y="1971" width="36" height="11"/><text class="t" x="121" y="1973.3"><tspan class="b">reduce.18</tspan><tspan x="121" dy="1.55">f32[1,2048]</tspan><tspan x="121" dy="1.55">metadata={op_type=Mean op_name=avg_pool}</tspan><tspan x="121" dy="1.55">source_line=441</tspan></text></g>
<g id="q4"><ellipse class="e" cx="121" cy="1990" rx="12" ry="4"/><text class="t" x="121" y="1989"><tspan class="b">tuple.18</tspan><tspan x="121" dy="1.5">(s32[], f32[1,2048])</tspan><tspan x="121" dy="1.5">{0}</tspan></text></g>
<g id="q5"><rect class="w" x="110" y="1999" width="23" height="9" rx="2"/><text class="t" x="121.5" y="2001.7"><tspan class="b">get-tuple-element.33</tspan><tspan x="121.5" dy="1.5">f32[1,2048] index=1</tspan><tspan x="121.5" dy="1.5">{1,0}</tspan></text></g>
<g id="q6"><rect class="w" x="110" y="2012" width="23" height="8" rx="2"/><text class="t" x="121.5" y="2014.6"><tspan class="b">dot.2</tspan><tspan x="121.5" dy="1.5">f32[1,1000] lhs={1} rhs={0}</tspan><tspan x="121.5" dy="1.5">{1,0}</tspan></text></g>
<g id="q7"><rect class="w" x="110" y="2023" width="23" height="9" rx="2"/><text class="t" x="121.5" y="2025.7"><tspan class="b">add.39</tspan><tspan x="121.5" dy="1.5">f32[1,1000]</tspan><tspan x="121.5" dy="1.5">{1,0}</tspan></text></g>
<g id="q8"><rect class="w" x="113" y="2039" width="16" height="7"/><text class="t" x="121" y="2041.8"><tspan class="b">param.32</tspan><tspan x="121" dy="1.5">f32[1,1000]</tspan></text></g>
<g id="q9"><rect class="r" x="109" y="2049" width="23" height="12"/><text class="t" x="120.5" y="2051.3"><tspan class="b">fusion.48</tspan><tspan x="120.5" dy="1.55">kind=kLoop</tspan><tspan x="120.5" dy="1.55">f32[1,1000]</tspan><tspan x="120.5" dy="1.55">{1,0}</tspan></text></g>
<g id="q10"><rect class="r" x="103" y="2064" width="35" height="12"/><text class="t" x="120.5" y="2066.3"><tspan class="b">exponential.1</tspan><tspan x="120.5" dy="1.55">f32[1,1000]</tspan><tspan x="120.5" dy="1.55">metadata={op_type=Softmax op_name=probs}</tspan><tspan x="120.5" dy="1.55">source_line=450</tspan></text></g>
<g id="q11"><rect class="w" x="113" y="2092" width="15" height="6"/><text class="t" x="120.5" y="2094.5"><tspan class="b">param.33</tspan><tspan x="120.5" dy="1.5">f32[1,1000]</tspan></text></g>
<g id="q12"><rect class="r" x="109" y="2102" width="23" height="11"/><text class="t" x="120.5" y="2104.3"><tspan class="b">fusion.49</tspan><tspan x="120.5" dy="1.55">kind=kInput</tspan><tspan x="120.5" dy="1.55">f32[1]</tspan><tspan x="120.5" dy="1.55">{0}</tspan></text></g>
<g id="q13"><rect class="r" x="103" y="2117" width="35" height="11"/><text class="t" x="120.5" y="2119.3"><tspan class="b">reduce.19</tspan><tspan x="120.5" dy="1.55">f32[1]</tspan><tspan x="120.5" dy="1.55">dimensions={1} to_apply=add_F32</tspan><tspan x="120.5" dy="1.55">source_line=451</tspan></text></g>
<g id="q14"><ellipse class="e" cx="121" cy="2137" rx="12" ry="4"/><text class="t" x="121" y="2136"><tspan class="b">tuple.19</tspan><tspan x="121" dy="1.5">(f32[1,1000], f32[1])</tspan><tspan x="121" dy="1.5">{0}</tspan></text></g>
<g id="q15"><rect class="w" x="113" y="2148" width="16" height="5"/><text class="t" x="121" y="2150.2"><tspan class="b">param.34</tspan><tspan x="121" dy="1.4">f32[1,1000]</tspan></text></g>
<g id="q16"><rect class="w" x="114" y="2162" width="19" height="6"/><text class="t" x="123.5" y="2164.5"><tspan class="b">param.35</tspan><tspan x="123.5" dy="1.5">f32[1]</tspan></text></g>
<g id="q17"><rect class="r" x="117" y="2172" width="21" height="11"/><text class="t" x="127.5" y="2174.3"><tspan class="b">fusion.50</tspan><tspan x="127.5" dy="1.55">kind=kLoop</tspan><tspan x="127.5" dy="1.55">f32[1,1000]</tspan><tspan x="127.5" dy="1.55">{1,0}</tspan></text></g>
<g id="q18"><rect class="r" x="107" y="2188" width="44" height="10"/><text class="t" x="129" y="2190.2"><tspan class="b">divide.12</tspan><tspan x="129" dy="1.5">f32[1,1000]</tspan><tspan x="129" dy="1.5">metadata={op_type=RealDiv op_name=probs/truediv}</tspan><tspan x="129" dy="1.5">source_line=452</tspan></text></g>
<g id="q19"><rect class="w" x="120" y="2207" width="17" height="6"/><text class="t" x="128.5" y="2209.5"><tspan class="b">param.36</tspan><tspan x="128.5" dy="1.5">f32[1,1000]</tspan></text></g>
<g id="q20"><rect class="r" x="117" y="2217" width="23" height="11"/><text class="t" x="128.5" y="2219.3"><tspan class="b">fusion.51</tspan><tspan x="128.5" dy="1.55">kind=kLoop</tspan><tspan x="128.5" dy="1.55">f32[1,1000]</tspan><tspan x="128.5" dy="1.55">{1,0}</tspan></text></g>
<g id="q21"><rect class="r" x="107" y="2232" width="44" height="11"/><text class="t" x="129" y="2234.3"><tspan class="b">log.1</tspan><tspan x="129" dy="1.55">f32[1,1000]</tspan><tspan x="129" dy="1.55">metadata={op_type=Log op_name=loss/log}</tspan><tspan x="129" dy="1.55">source_line=460</tspan></text></g>
<g id="q22"><ellipse class="e" cx="112" cy="2251" rx="10" ry="3"/><text class="t" x="112" y="2250.8"><tspan class="b">gte.37</tspan><tspan x="112" dy="1.5">f32[1,1000]</tspan></text></g>
<g id="q23"><ellipse class="e" cx="136" cy="2251" rx="10" ry="3"/><text class="t" x="136" y="2250.8"><tspan class="b">gte.38</tspan><tspan x="136" dy="1.5">f32[1,1000]</tspan></text></g>
<g id="q24"><rect class="w" x="123" y="2262" width="17" height="6"/><text class="t" x="131.5" y="2264.5"><tspan class="b">param.37</tspan><tspan x="131.5" dy="1.5">f32[1,1000]</tspan></text></g>
<g id="q25"><rect class="r" x="121" y="2272" width="22" height="11"/><text class="t" x="132" y="2274.3"><tspan class="b">fusion.52</tspan><tspan x="132" dy="1.55">kind=kLoop</tspan><tspan x="132" dy="1.55">f32[1,1000]</tspan><tspan x="132" dy="1.55">{1,0}</tspan></text></g>
<g id="q26"><rect class="r" x="114" y="2287" width="35" height="11"/><text class="t" x="131.5" y="2289.3"><tspan class="b">multiply.31</tspan><tspan x="131.5" dy="1.55">f32[1,1000]</tspan><tspan x="131.5" dy="1.55">metadata={op_type=Mul op_name=loss/mul}</tspan><tspan x="131.5" dy="1.55">source_line=461</tspan></text></g>
<g id="q27"><rect class="w" x="123" y="2308" width="17" height="7"/><text class="t" x="131.5" y="2310.8"><tspan class="b">param.38</tspan><tspan x="131.5" dy="1.5">f32[1,1000]</tspan></text></g>
<g id="q28"><rect class="r" x="121" y="2318" width="22" height="12"/><text class="t" x="132" y="2320.3"><tspan class="b">fusion.53</tspan><tspan x="132" dy="1.55">kind=kInput</tspan><tspan x="132" dy="1.55">f32[]</tspan><tspan x="132" dy="1.55">{}</tspan></text></g>
<g id="q29"><rect class="r" x="106" y="2334" width="51" height="11"/><text class="t" x="131.5" y="2336.3"><tspan class="b">negate.6</tspan><tspan x="131.5" dy="1.55">f32[]</tspan><tspan x="131.5" dy="1.55">metadata={op_type=Neg op_name=loss/categorical_crossentropy/Neg}</tspan><tspan x="131.5" dy="1.55">source_line=463</tspan></text></g>

<g id="q30"><rect class="w" x="123" y="2359" width="17" height="7"/><text class="t" x="131.5" y="2361.8"><tspan class="b">param.39</tspan><tspan x="131.5" dy="1.5">f32[]</tspan></text></g>
<g id="q31"><rect class="r" x="119" y="2370" width="24" height="12"/><text class="t" x="131" y="2372.3"><tspan class="b">fusion.54</tspan><tspan x="131" dy="1.55">kind=kLoop</tspan><tspan x="131" dy="1.55">f32[1,1000]</tspan><tspan x="131" dy="1.55">{1,0}</tspan></text></g>
<g id="q32"><rect class="r" x="113" y="2385" width="35" height="11"/><text class="t" x="130.5" y="2387.3"><tspan class="b">broadcast.22</tspan><tspan x="130.5" dy="1.55">f32[1,1000]</tspan><tspan x="130.5" dy="1.55">metadata={op_name=gradients/Fill}</tspan><tspan x="130.5" dy="1.55">source_line=470</tspan></text></g>
<g id="q33"><ellipse class="e" cx="129" cy="2404" rx="12" ry="4"/><text class="t" x="129" y="2403"><tspan class="b">tuple.21</tspan><tspan x="129" dy="1.5">(f32[1,1000], f32[1,1000])</tspan><tspan x="129" dy="1.5">{0}</tspan></text></g>
<g id="q34"><ellipse class="e" cx="114" cy="2419" rx="12" ry="3"/><text class="t" x="114" y="2418.8"><tspan class="b">gte.39</tspan><tspan x="114" dy="1.5">f32[1,1000]</tspan></text></g>
<g id="q35"><rect class="w" x="138" y="2415" width="14" height="7"/><text class="t" x="145" y="2417.8"><tspan class="b">param.40</tspan><tspan x="145" dy="1.5">f32[1,1000]</tspan></text></g>
<g id="q36"><rect class="w" x="140" y="2429" width="18" height="6"/><text class="t" x="149" y="2431.5"><tspan class="b">param.41</tspan><tspan x="149" dy="1.5">f32[1,1000]</tspan></text></g>
<g id="q37"><rect class="r" x="142" y="2439" width="22" height="12"/><text class="t" x="153" y="2441.3"><tspan class="b">fusion.55</tspan><tspan x="153" dy="1.55">kind=kLoop</tspan><tspan x="153" dy="1.55">f32[1,1000]</tspan><tspan x="153" dy="1.55">{1,0}</tspan></text></g>
<g id="q38"><rect class="r" x="136" y="2454" width="44" height="12"/><text class="t" x="158" y="2456.3"><tspan class="b">divide.14</tspan><tspan x="158" dy="1.55">f32[1,1000]</tspan><tspan x="158" dy="1.55">metadata={op_type=RealDiv op_name=grad/log_grad/Reciprocal}</tspan><tspan x="158" dy="1.55">source_line=472</tspan></text></g>
<g id="q39"><rect class="w" x="148" y="2474" width="19" height="7"/><text class="t" x="157.5" y="2476.8"><tspan class="b">param.42</tspan><tspan x="157.5" dy="1.5">f32[1,1000]</tspan></text></g>
<g id="q40"><rect class="r" x="146" y="2484" width="23" height="12"/><text class="t" x="157.5" y="2486.3"><tspan class="b">fusion.56</tspan><tspan x="157.5" dy="1.55">kind=kLoop</tspan><tspan x="157.5" dy="1.55">f32[1,1000]</tspan><tspan x="157.5" dy="1.55">{1,0}</tspan></text></g>
<g id="q41"><rect class="r" x="136" y="2499" width="44" height="12"/><text class="t" x="158" y="2501.3"><tspan class="b">multiply.33</tspan><tspan x="158" dy="1.55">f32[1,1000]</tspan><tspan x="158" dy="1.55">metadata={op_type=Mul op_name=grad/log_grad/mul}</tspan><tspan x="158" dy="1.55">source_line=473</tspan></text></g>
<g id="q42"><rect class="w" x="147" y="2521" width="17" height="6"/><text class="t" x="155.5" y="2523.5"><tspan class="b">param.43</tspan><tspan x="155.5" dy="1.5">f32[1,1000]</tspan></text></g>
<g id="q43"><rect class="w" x="146" y="2534" width="20" height="7"/><text class="t" x="156" y="2536.8"><tspan class="b">param.44</tspan><tspan x="156" dy="1.5">f32[1,1000]</tspan></text></g>
<g id="q44"><rect class="r" x="144" y="2545" width="23" height="12"/><text class="t" x="155.5" y="2547.3"><tspan class="b">fusion.57</tspan><tspan x="155.5" dy="1.55">kind=kLoop</tspan><tspan x="155.5" dy="1.55">f32[1,1000]</tspan><tspan x="155.5" dy="1.55">{1,0}</tspan></text></g>
<g id="q45"><rect class="r" x="133" y="2560" width="45" height="11"/><text class="t" x="155.5" y="2562.3"><tspan class="b">multiply.34</tspan><tspan x="155.5" dy="1.55">f32[1,1000]</tspan><tspan x="155.5" dy="1.55">metadata={op_type=Mul op_name=grad/truediv_grad/mul}</tspan><tspan x="155.5" dy="1.55">source_line=475</tspan></text></g>
<g id="q46"><rect class="w" x="146" y="2579" width="20" height="7"/><text class="t" x="156" y="2581.8"><tspan class="b">param.45</tspan><tspan x="156" dy="1.5">f32[1,1000]</tspan></text></g>
<g id="q47"><rect class="r" x="144" y="2590" width="23" height="12"/><text class="t" x="155.5" y="2592.3"><tspan class="b">fusion.58</tspan><tspan x="155.5" dy="1.55">kind=kInput</tspan><tspan x="155.5" dy="1.55">f32[1]</tspan><tspan x="155.5" dy="1.55">{0}</tspan></text></g>
<g id="q48"><rect class="r" x="133" y="2606" width="45" height="11"/><text class="t" x="155.5" y="2608.3"><tspan class="b">reduce.21</tspan><tspan x="155.5" dy="1.55">f32[1]</tspan><tspan x="155.5" dy="1.55">metadata={op_type=Sum op_name=grad/truediv_grad/Sum}</tspan><tspan x="155.5" dy="1.55">source_line=476</tspan></text></g>
<g id="q49"><ellipse class="e" cx="142" cy="2623" rx="11" ry="3"/><text class="t" x="142" y="2622.8"><tspan class="b">tuple.23</tspan><tspan x="142" dy="1.5">(f32[1,1000], f32[1])</tspan></text></g>
<g id="q50"><rect class="w" x="131" y="2634" width="17" height="7"/><text class="t" x="139.5" y="2636.8"><tspan class="b">param.46</tspan><tspan x="139.5" dy="1.5">f32[1,1000]</tspan></text></g>
<g id="q51"><rect class="r" x="128" y="2644" width="23" height="12"/><text class="t" x="139.5" y="2646.3"><tspan class="b">fusion.59</tspan><tspan x="139.5" dy="1.55">kind=kLoop</tspan><tspan x="139.5" dy="1.55">f32[1,1000]</tspan><tspan x="139.5" dy="1.55">{1,0}</tspan></text></g>
<g id="q52"><rect class="r" x="122" y="2660" width="35" height="11"/><text class="t" x="139.5" y="2662.3"><tspan class="b">subtract.9</tspan><tspan x="139.5" dy="1.55">f32[1,1000]</tspan><tspan x="139.5" dy="1.55">metadata={op_name=grad/Softmax_grad/sub}</tspan><tspan x="139.5" dy="1.55">source_line=480</tspan></text></g>
<g id="q53"><rect class="w" x="131" y="2682" width="17" height="6"/><text class="t" x="139.5" y="2684.5"><tspan class="b">param.47</tspan><tspan x="139.5" dy="1.5">f32[1,1000]</tspan></text></g>
<g id="q54"><rect class="r" x="128" y="2692" width="23" height="11"/><text class="t" x="139.5" y="2694.3"><tspan class="b">fusion.60</tspan><tspan x="139.5" dy="1.55">kind=kLoop</tspan><tspan x="139.5" dy="1.55">f32[1,1000]</tspan><tspan x="139.5" dy="1.55">{1,0}</tspan></text></g>
<g id="q55"><rect class="r" x="113" y="2707" width="52" height="11"/><text class="t" x="139" y="2709.3"><tspan class="b">multiply.36</tspan><tspan x="139" dy="1.55">f32[1,1000]</tspan><tspan x="139" dy="1.55">metadata={op_type=Mul op_name=gradients/probs/Softmax_grad/mul_1}</tspan><tspan x="139" dy="1.55">source_line=482</tspan></text></g>
<g id="q56"><rect class="w" x="131" y="2732" width="17" height="7"/><text class="t" x="139.5" y="2734.8"><tspan class="b">param.48</tspan><tspan x="139.5" dy="1.5">f32[1,1000]</tspan></text></g>
<g id="q57"><rect class="r" x="124" y="2743" width="23" height="11"/><text class="t" x="135.5" y="2745.3"><tspan class="b">fusion.61</tspan><tspan x="135.5" dy="1.55">kind=kLoop</tspan><tspan x="135.5" dy="1.55">f32[1,2048]</tspan><tspan x="135.5" dy="1.55">{1,0}</tspan></text></g>
<g id="q58"><rect class="r" x="116" y="2758" width="35" height="11"/><text class="t" x="133.5" y="2760.3"><tspan class="b">dot.4</tspan><tspan x="133.5" dy="1.55">f32[1,2048]</tspan><tspan x="133.5" dy="1.55">metadata={op_name=grad/fc/MatMul}</tspan><tspan x="133.5" dy="1.55">source_line=490</tspan></text></g>
<g id="q59"><ellipse class="e" cx="131" cy="2777" rx="12" ry="4"/><text class="t" x="131" y="2776"><tspan class="b">tuple.25</tspan><tspan x="131" dy="1.5">(f32[1,2048], f32[2048,1000])</tspan><tspan x="131" dy="1.5">{0}</tspan></text></g>
<g id="q60"><ellipse class="e" cx="116" cy="2792" rx="12" ry="3"/><text class="t" x="116" y="2791.8"><tspan class="b">gte.41</tspan><tspan x="116" dy="1.5">f32[1,2048]</tspan></text></g>
<g id="q61"><rect class="w" x="140" y="2788" width="12" height="7"/><text class="t" x="146" y="2790.8"><tspan class="b">param.49</tspan><tspan x="146" dy="1.5">f32[1,2048]</tspan></text></g>
<g id="q62"><rect class="w" x="140" y="2802" width="19" height="6"/><text class="t" x="149.5" y="2804.5"><tspan class="b">param.50</tspan><tspan x="149.5" dy="1.5">f32[1,2048]</tspan></text></g>
<g id="q63"><rect class="r" x="143" y="2813" width="20" height="11"/><text class="t" x="153" y="2815.3"><tspan class="b">fusion.62</tspan><tspan x="153" dy="1.55">kind=kLoop</tspan><tspan x="153" dy="1.55">f32[1,7,7,2048]</tspan><tspan x="153" dy="1.55">{3,2,1,0}</tspan></text></g>
<g id="q64"><rect class="r" x="137" y="2827" width="43" height="12"/><text class="t" x="158.5" y="2829.3"><tspan class="b">broadcast.25</tspan><tspan x="158.5" dy="1.55">f32[1,7,7,2048]</tspan><tspan x="158.5" dy="1.55">metadata={op_name=grad/avg_pool/Mean_grad/Tile}</tspan><tspan x="158.5" dy="1.55">source_line=492</tspan></text></g>
<g id="q65"><rect class="w" x="148" y="2847" width="19" height="6"/><text class="t" x="157.5" y="2849.5"><tspan class="b">param.51</tspan><tspan x="157.5" dy="1.5">f32[1,7,7,2048]</tspan></text></g>
<g id="q66"><rect class="r" x="148" y="2858" width="21" height="11"/><text class="t" x="158.5" y="2860.3"><tspan class="b">fusion.63</tspan><tspan x="158.5" dy="1.55">kind=kLoop</tspan><tspan x="158.5" dy="1.55">f32[1,7,7,2048]</tspan><tspan x="158.5" dy="1.55">{3,2,1,0}</tspan></text></g>
<g id="q67"><rect class="r" x="137" y="2873" width="43" height="11"/><text class="t" x="158.5" y="2875.3"><tspan class="b">divide.16</tspan><tspan x="158.5" dy="1.55">f32[1,7,7,2048]</tspan><tspan x="158.5" dy="1.55">metadata={op_name=grad/avg_pool/Mean_grad/truediv}</tspan><tspan x="158.5" dy="1.55">source_line=493</tspan></text></g>
<g id="q68"><rect class="w" x="148" y="2895" width="17" height="5"/><text class="t" x="156.5" y="2897.2"><tspan class="b">param.52</tspan><tspan x="156.5" dy="1.4">f32[1,7,7,2048]</tspan></text></g>
<g id="q69"><rect class="w" x="146" y="2907" width="20" height="7"/><text class="t" x="156" y="2909.8"><tspan class="b">param.53</tspan><tspan x="156" dy="1.5">f32[1,7,7,2048]</tspan></text></g>
<g id="q70"><rect class="r" x="146" y="2918" width="21" height="11"/><text class="t" x="156.5" y="2920.3"><tspan class="b">fusion.64</tspan><tspan x="156.5" dy="1.55">kind=kLoop</tspan><tspan x="156.5" dy="1.55">f32[1,7,7,2048]</tspan><tspan x="156.5" dy="1.55">{3,2,1,0}</tspan></text></g>
<g id="q71"><rect class="r" x="135" y="2933" width="43" height="11"/><text class="t" x="156.5" y="2935.3"><tspan class="b">select.9</tspan><tspan x="156.5" dy="1.55">f32[1,7,7,2048]</tspan><tspan x="156.5" dy="1.55">metadata={op_type=ReluGrad op_name=grad/relu_5c}</tspan><tspan x="156.5" dy="1.55">source_line=495</tspan></text></g>
<g id="q72"><rect class="w" x="146" y="2953" width="20" height="6"/><text class="t" x="156" y="2955.5"><tspan class="b">param.54</tspan><tspan x="156" dy="1.5">f32[1,7,7,2048]</tspan></text></g>
<g id="q73"><rect class="r" x="146" y="2963" width="21" height="11"/><text class="t" x="156.5" y="2965.3"><tspan class="b">fusion.65</tspan><tspan x="156.5" dy="1.55">kind=kInput</tspan><tspan x="156.5" dy="1.55">f32[2048]</tspan><tspan x="156.5" dy="1.55">{0}</tspan></text></g>
<g id="q74"><rect class="r" x="135" y="2978" width="43" height="11"/><text class="t" x="156.5" y="2980.3"><tspan class="b">reduce.23</tspan><tspan x="156.5" dy="1.55">f32[2048]</tspan><tspan x="156.5" dy="1.55">metadata={op_type=Sum op_name=grad/bn5c/Sum}</tspan><tspan x="156.5" dy="1.55">source_line=497</tspan></text></g>
<g id="q75"><ellipse class="e" cx="142" cy="2997" rx="11" ry="3"/><text class="t" x="142" y="2996.8"><tspan class="b">tuple.27</tspan><tspan x="142" dy="1.5">(f32[...], f32[2048])</tspan></text></g>
<g id="q76"><rect class="w" x="118" y="3007" width="17" height="6"/><text class="t" x="126.5" y="3009.5"><tspan class="b">param.55</tspan><tspan x="126.5" dy="1.5">f32[1,7,7,2048]</tspan></text></g>
<g id="q77"><rect class="r" x="115" y="3019" width="23" height="10"/><text class="t" x="126.5" y="3021.2"><tspan class="b">fusion.66</tspan><tspan x="126.5" dy="1.5">kind=kLoop</tspan><tspan x="126.5" dy="1.5">f32[1,7,7,2048]</tspan><tspan x="126.5" dy="1.5">{3,2,1,0}</tspan></text></g>
<g id="q78"><rect class="r" x="109" y="3033" width="35" height="11"/><text class="t" x="126.5" y="3035.3"><tspan class="b">multiply.39</tspan><tspan x="126.5" dy="1.55">f32[1,7,7,2048]</tspan><tspan x="126.5" dy="1.55">metadata={op_name=grad/bn5c/mul}</tspan><tspan x="126.5" dy="1.55">source_line=499</tspan></text></g>
<g id="q79"><rect class="w" x="117" y="3055" width="19" height="6"/><text class="t" x="126.5" y="3057.5"><tspan class="b">param.56</tspan><tspan x="126.5" dy="1.5">f32[1,7,7,2048]</tspan></text></g>
<g id="q80"><rect class="r" x="115" y="3065" width="23" height="11"/><text class="t" x="126.5" y="3067.3"><tspan class="b">fusion.67</tspan><tspan x="126.5" dy="1.55">kind=kLoop</tspan><tspan x="126.5" dy="1.55">bf16[1,7,7,2048]</tspan><tspan x="126.5" dy="1.55">{3,2,1,0}</tspan></text></g>
<g id="q81"><rect class="r" x="102" y="3080" width="50" height="11"/><text class="t" x="127" y="3082.3"><tspan class="b">convolution.24</tspan><tspan x="127" dy="1.55">f32[1,7,7,512]</tspan><tspan x="127" dy="1.55">window={size=1x1} dim_labels=b01f_01oi-&gt;b01f metadata={op_name=grad/res5c}</tspan><tspan x="127" dy="1.55">source_line=501</tspan></text></g>
<g id="q82"><rect class="w" x="119" y="3106" width="15" height="6"/><text class="t" x="126.5" y="3108.5"><tspan class="b">param.57</tspan><tspan x="126.5" dy="1.5">f32[1,7,7,512]</tspan></text></g>
<g id="q83"><rect class="r" x="116" y="3116" width="22" height="11"/><text class="t" x="127" y="3118.3"><tspan class="b">fusion.68</tspan><tspan x="127" dy="1.55">kind=kLoop</tspan><tspan x="127" dy="1.55">f32[1,7,7,512]</tspan><tspan x="127" dy="1.55">{3,2,1,0}</tspan></text></g>
<g id="q84"><rect class="r" x="110" y="3131" width="34" height="11"/><text class="t" x="127" y="3133.3"><tspan class="b">select.11</tspan><tspan x="127" dy="1.55">f32[1,7,7,512]</tspan><tspan x="127" dy="1.55">metadata={op_name=grad/relu_5b}</tspan><tspan x="127" dy="1.55">source_line=503</tspan></text></g>
<g id="q85"><ellipse class="e" cx="127" cy="3150" rx="12" ry="4"/><text class="t" x="127" y="3149"><tspan class="b">tuple.29</tspan><tspan x="127" dy="1.5">(f32[1,7,7,512], f32[512])</tspan><tspan x="127" dy="1.5">{0}</tspan></text></g>
<g id="q86"><rect class="w" x="119" y="3161" width="16" height="7"/><text class="t" x="127" y="3163.8"><tspan class="b">param.58</tspan><tspan x="127" dy="1.5">f32[1,7,7,512]</tspan></text></g>
<g id="q87"><rect class="w" x="120" y="3175" width="18" height="6"/><text class="t" x="129" y="3177.5"><tspan class="b">param.59</tspan><tspan x="129" dy="1.5">f32[1,7,7,512]</tspan></text></g>
<g id="q88"><rect class="r" x="123" y="3185" width="21" height="12"/><text class="t" x="133.5" y="3187.3"><tspan class="b">fusion.69</tspan><tspan x="133.5" dy="1.55">kind=kInput</tspan><tspan x="133.5" dy="1.55">f32[512]</tspan><tspan x="133.5" dy="1.55">{0}</tspan></text></g>
<g id="q89"><rect class="r" x="113" y="3200" width="43" height="12"/><text class="t" x="134.5" y="3202.3"><tspan class="b">reduce.25</tspan><tspan x="134.5" dy="1.55">f32[512]</tspan><tspan x="134.5" dy="1.55">metadata={op_type=Sum op_name=grad/bn5b/Sum}</tspan><tspan x="134.5" dy="1.55">source_line=505</tspan></text></g>
<g id="q90"><rect class="w" x="124" y="3220" width="20" height="7"/><text class="t" x="134" y="3222.8"><tspan class="b">param.60</tspan><tspan x="134" dy="1.5">f32[1,7,7,512]</tspan></text></g>
<g id="q91"><rect class="r" x="123" y="3231" width="22" height="11"/><text class="t" x="134" y="3233.3"><tspan class="b">fusion.70</tspan><tspan x="134" dy="1.55">kind=kLoop</tspan><tspan x="134" dy="1.55">f32[1,7,7,512]</tspan><tspan x="134" dy="1.55">{3,2,1,0}</tspan></text></g>
<g id="q92"><rect class="r" x="113" y="3246" width="43" height="11"/><text class="t" x="134.5" y="3248.3"><tspan class="b">multiply.42</tspan><tspan x="134.5" dy="1.55">f32[1,7,7,512]</tspan><tspan x="134.5" dy="1.55">metadata={op_type=Mul op_name=grad/bn5b/mul_1}</tspan><tspan x="134.5" dy="1.55">source_line=507</tspan></text></g>
<g id="q93"><ellipse class="e" cx="118" cy="3265" rx="11" ry="3"/><text class="t" x="118" y="3264.8"><tspan class="b">gte.43</tspan><tspan x="118" dy="1.5">f32[512]</tspan></text></g>
<g id="q94"><ellipse class="e" cx="143" cy="3265" rx="11" ry="3"/><text class="t" x="143" y="3264.8"><tspan class="b">gte.44</tspan><tspan x="143" dy="1.5">f32[1,7,7,512]</tspan></text></g>
<g id="q95"><rect class="w" x="127" y="3275" width="16" height="6"/><text class="t" x="135" y="3277.5"><tspan class="b">param.61</tspan><tspan x="135" dy="1.5">f32[1,7,7,512]</tspan></text></g>
<g id="q96"><rect class="r" x="123" y="3286" width="22" height="11"/><text class="t" x="134" y="3288.3"><tspan class="b">fusion.71</tspan><tspan x="134" dy="1.55">kind=kLoop</tspan><tspan x="134" dy="1.55">bf16[1,7,7,512]</tspan><tspan x="134" dy="1.55">{3,2,1,0}</tspan></text></g>
<g id="q97"><rect class="r" x="117" y="3301" width="34" height="11"/><text class="t" x="134" y="3303.3"><tspan class="b">convolution.26</tspan><tspan x="134" dy="1.55">f32[1,7,7,512]</tspan><tspan x="134" dy="1.55">metadata={op_name=grad/res5b_2b}</tspan><tspan x="134" dy="1.55">source_line=509</tspan></text></g>
<g id="q98"><rect class="w" x="127" y="3322" width="15" height="6"/><text class="t" x="134.5" y="3324.5"><tspan class="b">param.62</tspan><tspan x="134.5" dy="1.5">f32[1,7,7,512]</tspan></text></g>
<g id="q99"><rect class="r" x="123" y="3332" width="22" height="11"/><text class="t" x="134" y="3334.3"><tspan class="b">fusion.72</tspan><tspan x="134" dy="1.55">kind=kLoop</tspan><tspan x="134" dy="1.55">f32[1,7,7,512]</tspan><tspan x="134" dy="1.55">{3,2,1,0}</tspan></text></g>
<g id="q100"><rect class="r" x="109" y="3347" width="51" height="12"/><text class="t" x="134.5" y="3349.3"><tspan class="b">select.13</tspan><tspan x="134.5" dy="1.55">f32[1,7,7,512]</tspan><tspan x="134.5" dy="1.55">metadata={op_type=ReluGrad op_name=gradients/res5b_relu/ReluGrad}</tspan><tspan x="134.5" dy="1.55">source_line=511</tspan></text></g>
<g id="q101"><rect class="w" x="126" y="3367" width="17" height="6"/><text class="t" x="134.5" y="3369.5"><tspan class="b">param.63</tspan><tspan x="134.5" dy="1.5">f32[1,7,7,512]</tspan></text></g>
<g id="q102"><rect class="r" x="123" y="3377" width="22" height="12"/><text class="t" x="134" y="3379.3"><tspan class="b">fusion.73</tspan><tspan x="134" dy="1.55">kind=kInput</tspan><tspan x="134" dy="1.55">f32[512]</tspan><tspan x="134" dy="1.55">{0}</tspan></text></g>
<g id="q103"><rect class="r" x="109" y="3392" width="50" height="12"/><text class="t" x="134" y="3394.3"><tspan class="b">reduce.27</tspan><tspan x="134" dy="1.55">f32[512]</tspan><tspan x="134" dy="1.55">metadata={op_type=Sum op_name=gradients/bn5b/FusedBatchNormGrad}</tspan><tspan x="134" dy="1.55">source_line=513</tspan></text></g>
<g id="green2"><ellipse class="grn" cx="134" cy="3413" rx="12" ry="4.5"/><text class="t" x="134" y="3412"><tspan class="b">tuple.31</tspan><tspan x="134" dy="1.5">(f32[512], f32[...])</tspan><tspan x="134" dy="1.5">ROOT</tspan></text></g>
</g>
</svg>
